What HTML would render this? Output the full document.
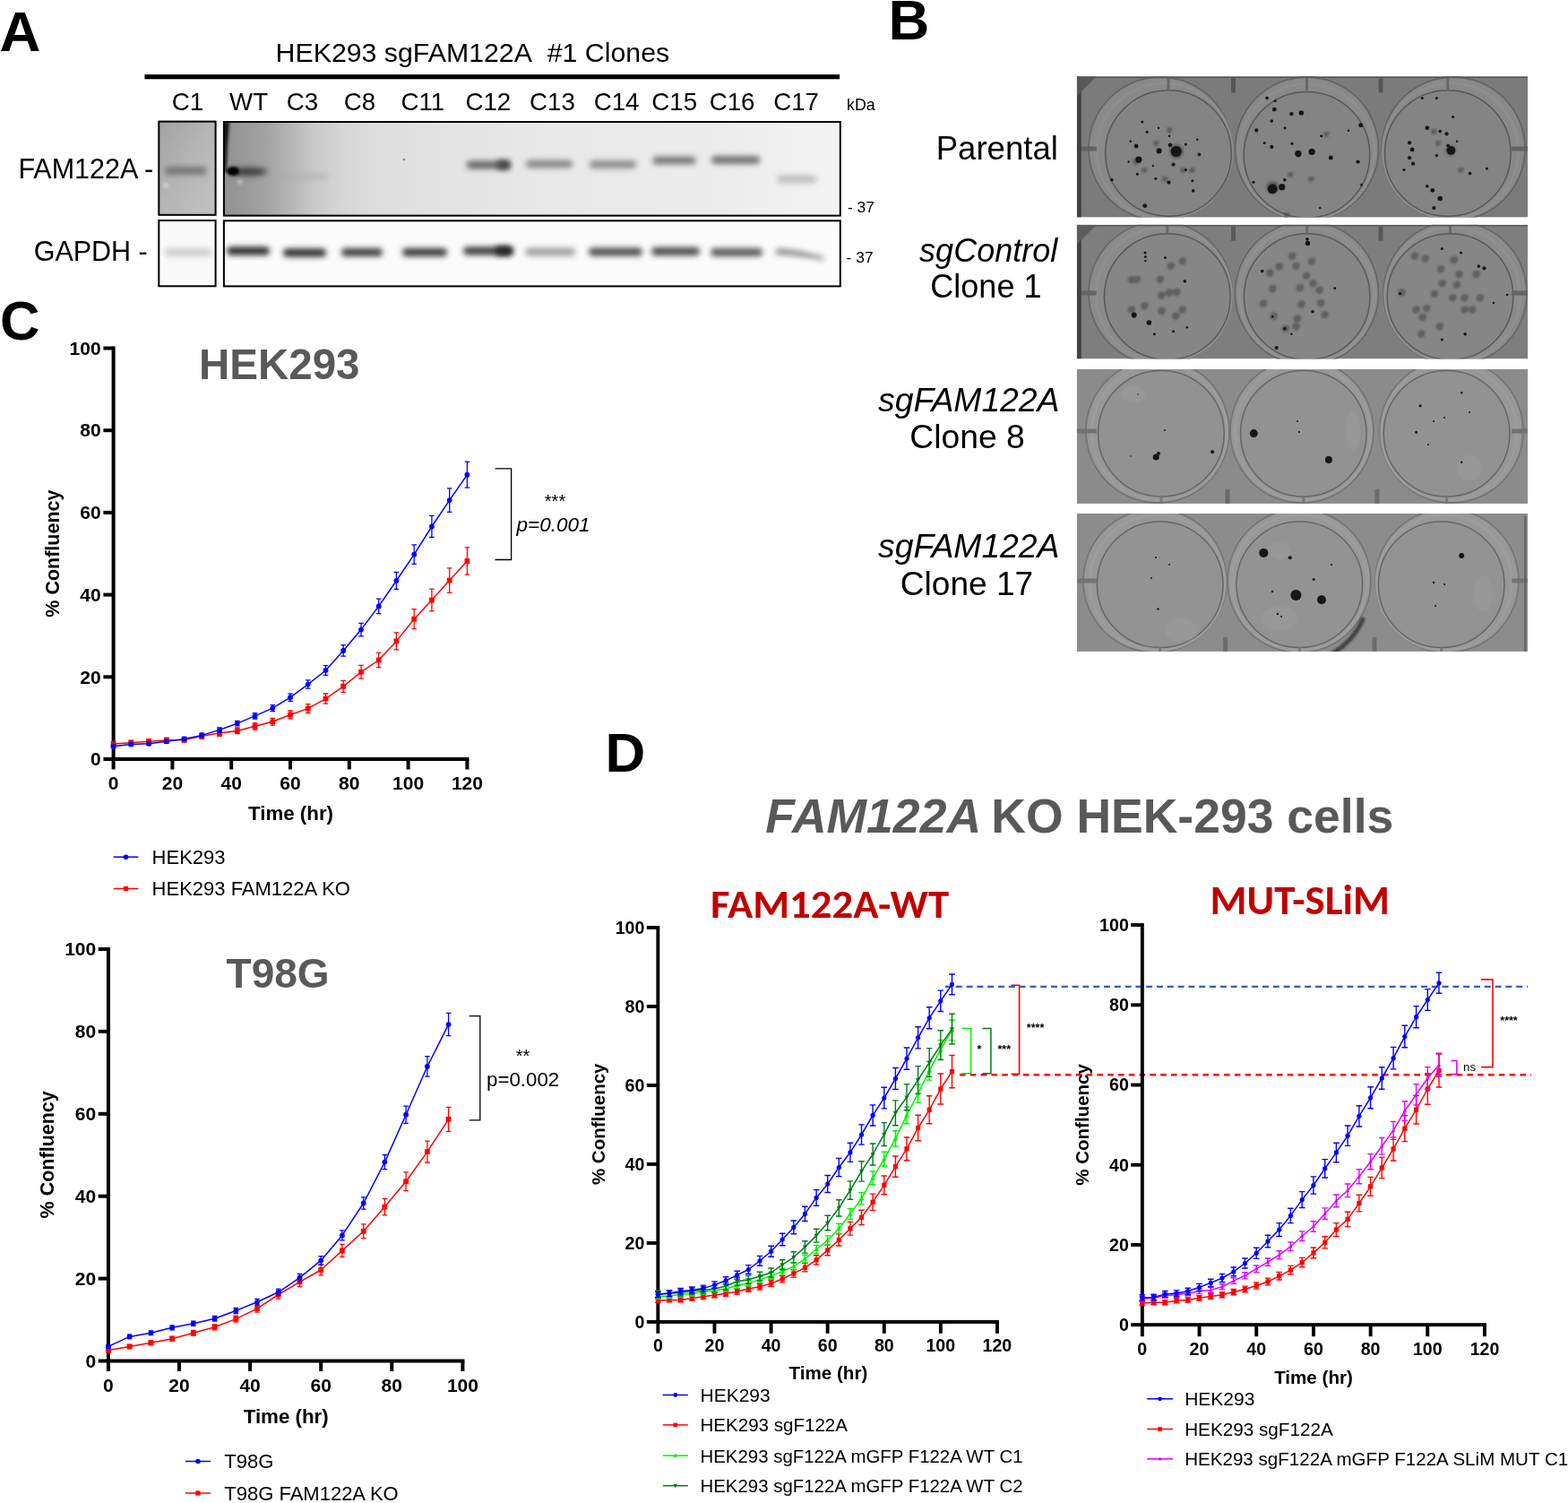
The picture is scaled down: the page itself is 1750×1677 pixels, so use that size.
<!DOCTYPE html>
<html><head><meta charset="utf-8"><title>FAM122A figure</title>
<style>
html,body{margin:0;padding:0;background:#fff;}
body{width:1750px;height:1677px;overflow:hidden;}
svg{display:block;font-family:'Liberation Sans', Arial, Helvetica, sans-serif;}
</style></head>
<body>
<svg width="1750" height="1677" viewBox="0 0 1750 1677">
<rect width="1750" height="1677" fill="#fff"/>
<text x="-0.6" y="56.8" font-size="63.5" font-weight="bold">A</text>
<text x="991.4" y="43.6" font-size="63.5" font-weight="bold">B</text>
<text x="-0.1" y="379.4" font-size="61.5" font-weight="bold">C</text>
<text x="675.5" y="860.6" font-size="62" font-weight="bold">D</text>
<text x="307.6" y="68.9" font-size="30.3">HEK293 sgFAM122A&#160; #1 Clones</text>
<rect x="161.4" y="83.1" width="775.7" height="5.2" fill="#000"/>
<text x="209.4" y="123.0" font-size="27.7" text-anchor="middle">C1</text>
<text x="277.6" y="123.0" font-size="27.7" text-anchor="middle">WT</text>
<text x="337.5" y="123.0" font-size="27.7" text-anchor="middle">C3</text>
<text x="401.5" y="123.0" font-size="27.7" text-anchor="middle">C8</text>
<text x="471.9" y="123.0" font-size="27.7" text-anchor="middle">C11</text>
<text x="544.8" y="123.0" font-size="27.7" text-anchor="middle">C12</text>
<text x="616.5" y="123.0" font-size="27.7" text-anchor="middle">C13</text>
<text x="688.1" y="123.0" font-size="27.7" text-anchor="middle">C14</text>
<text x="752.7" y="123.0" font-size="27.7" text-anchor="middle">C15</text>
<text x="817.1" y="123.0" font-size="27.7" text-anchor="middle">C16</text>
<text x="888.6" y="123.0" font-size="27.7" text-anchor="middle">C17</text>
<text x="945.0" y="123.2" font-size="17.8">kDa</text>
<text x="946.0" y="236.7" font-size="17.4">- 37</text>
<text x="944.6" y="292.5" font-size="17.4">- 37</text>
<text x="20.4" y="198.6" font-size="30.5">FAM122A -</text>
<text x="37.7" y="290.9" font-size="30.5">GAPDH -</text>
<defs>
<filter id="bl3" x="-30%" y="-100%" width="160%" height="300%"><feGaussianBlur stdDeviation="3.0"/></filter>
<filter id="bl2" x="-30%" y="-100%" width="160%" height="300%"><feGaussianBlur stdDeviation="1.8"/></filter>
<filter id="bl6" x="-50%" y="-50%" width="200%" height="200%"><feGaussianBlur stdDeviation="6"/></filter>
<linearGradient id="gFamC1" x1="0" y1="0" x2="1" y2="1">
 <stop offset="0" stop-color="#a2a2a2"/><stop offset="0.5" stop-color="#b6b6b6"/><stop offset="1" stop-color="#c2c2c2"/>
</linearGradient>
<linearGradient id="gFam" gradientUnits="userSpaceOnUse" x1="249" y1="0" x2="938" y2="0">
 <stop offset="0.001" stop-color="#909090"/>
 <stop offset="0.038" stop-color="#9a9a9a"/>
 <stop offset="0.074" stop-color="#a4a4a4"/>
 <stop offset="0.103" stop-color="#b2b2b2"/>
 <stop offset="0.139" stop-color="#c6c6c6"/>
 <stop offset="0.190" stop-color="#d5d5d5"/>
 <stop offset="0.248" stop-color="#dddddd"/>
 <stop offset="0.335" stop-color="#e2e2e2"/>
 <stop offset="0.509" stop-color="#e8e8e8"/>
 <stop offset="0.800" stop-color="#ececec"/>
 <stop offset="1.000" stop-color="#f3f3f3"/>
</linearGradient>
<linearGradient id="gFamV" x1="0" y1="0" x2="0" y2="1">
 <stop offset="0" stop-color="#000" stop-opacity="0.06"/><stop offset="0.5" stop-color="#000" stop-opacity="0"/><stop offset="1" stop-color="#000" stop-opacity="0.03"/>
</linearGradient>
<clipPath id="cpFamC1"><rect x="177.3" y="135.6" width="63.3" height="104.2"/></clipPath>
<clipPath id="cpFam"><rect x="249.9" y="136" width="687.9" height="104.6"/></clipPath>
<clipPath id="cpGC1"><rect x="177.3" y="246" width="63.3" height="73.3"/></clipPath>
<clipPath id="cpG"><rect x="249.9" y="246.3" width="687.9" height="73.1"/></clipPath>
</defs>
<g clip-path="url(#cpFamC1)">
<rect x="177.3" y="135.6" width="63.3" height="104.2" fill="url(#gFamC1)"/>
<rect x="184" y="186" width="46" height="9" rx="4" fill="#747474" filter="url(#bl3)"/>
<circle cx="185" cy="207" r="3" fill="#d0d0d0" filter="url(#bl2)"/>
</g>
<g clip-path="url(#cpFam)">
<rect x="249.9" y="136" width="687.9" height="104.6" fill="url(#gFam)"/>

<path d="M249,136 L256,136 L254,160 L252.5,192 L250,192 Z" fill="#111" filter="url(#bl2)"/>
<ellipse cx="277" cy="191.5" rx="21" ry="4.5" fill="#3a3a3a" filter="url(#bl3)"/>
<ellipse cx="260" cy="191" rx="7" ry="5" fill="#000" filter="url(#bl2)"/>
<circle cx="268" cy="203" r="3" fill="#b8b8b8" filter="url(#bl2)"/>
<rect x="316" y="194" width="50" height="6" rx="3" fill="#a8a8a8" opacity="0.6" filter="url(#bl3)"/>
<rect x="521" y="179.8" width="48" height="8.4" rx="4" fill="#626262" filter="url(#bl3)"/>
<rect x="587" y="178.8" width="52" height="8.4" rx="4" fill="#858585" filter="url(#bl3)"/>
<rect x="658" y="179.3" width="52" height="8.4" rx="4" fill="#888888" filter="url(#bl3)"/>
<rect x="728.5" y="174.8" width="48" height="8.4" rx="4" fill="#757575" filter="url(#bl3)"/>
<rect x="794" y="174.3" width="54" height="8.4" rx="4" fill="#6c6c6c" filter="url(#bl3)"/>
<rect x="867" y="195.8" width="44" height="8.4" rx="4" fill="#bdbdbd" filter="url(#bl3)"/>
<rect x="555" y="179" width="14" height="10" rx="3" fill="#444" filter="url(#bl3)"/>
<circle cx="451" cy="178" r="1.3" fill="#888"/>
</g>
<rect x="177.3" y="135.6" width="63.3" height="104.2" fill="none" stroke="#000" stroke-width="2"/>
<rect x="249.9" y="136" width="687.9" height="104.6" fill="none" stroke="#000" stroke-width="2"/>
<g clip-path="url(#cpGC1)">
<rect x="177.3" y="246" width="63.3" height="73.3" fill="#f9f9f9"/>
<rect x="184" y="277" width="52" height="9" rx="4" fill="#cdcdcd" filter="url(#bl3)"/>
</g>
<g clip-path="url(#cpG)">
<rect x="249.9" y="246.3" width="687.9" height="73.1" fill="#fbfbfb"/>
<rect x="253" y="275.4" width="48" height="9.2" rx="4.5" fill="#262626" filter="url(#bl3)"/>
<rect x="316" y="277.4" width="48" height="9.2" rx="4.5" fill="#2c2c2c" filter="url(#bl3)"/>
<rect x="381" y="276.9" width="46" height="9.2" rx="4.5" fill="#3c3c3c" filter="url(#bl3)"/>
<rect x="449" y="276.9" width="50" height="9.2" rx="4.5" fill="#383838" filter="url(#bl3)"/>
<rect x="517" y="275.4" width="56" height="9.2" rx="4.5" fill="#3a3a3a" filter="url(#bl3)"/>
<rect x="586" y="276.4" width="56" height="9.2" rx="4.5" fill="#a0a0a0" filter="url(#bl3)"/>
<rect x="657" y="276.4" width="60" height="9.2" rx="4.5" fill="#4c4c4c" filter="url(#bl3)"/>
<rect x="727" y="275.9" width="54" height="9.2" rx="4.5" fill="#4a4a4a" filter="url(#bl3)"/>
<rect x="793" y="276.9" width="58" height="9.2" rx="4.5" fill="#585858" filter="url(#bl3)"/>
<rect x="553" y="275" width="18" height="10" rx="4" fill="#222" filter="url(#bl3)"/>
<path d="M866,278 C880,277 900,281 920,287 L920,290 C900,287 880,284 866,284 Z" fill="#888" filter="url(#bl3)"/>
</g>
<rect x="177.3" y="246" width="63.3" height="73.3" fill="none" stroke="#000" stroke-width="2"/>
<rect x="249.9" y="246.3" width="687.9" height="73.1" fill="none" stroke="#000" stroke-width="2"/>
<text x="1180.9" y="177.8" font-size="36.6" text-anchor="end">Parental</text>
<text x="1180.2" y="292.4" font-size="36" text-anchor="end" font-style="italic">sgControl</text>
<text x="1100.4" y="332.2" font-size="36" text-anchor="middle">Clone 1</text>
<text x="1182.5" y="459.4" font-size="37.3" text-anchor="end" font-style="italic">sgFAM122A</text>
<text x="1079.6" y="500.3" font-size="37.3" text-anchor="middle">Clone 8</text>
<text x="1182.5" y="622.2" font-size="37.3" text-anchor="end" font-style="italic">sgFAM122A</text>
<text x="1079.0" y="664.0" font-size="37.1" text-anchor="middle">Clone 17</text>
<defs><filter id="pblur" x="-10%" y="-10%" width="120%" height="120%"><feGaussianBlur stdDeviation="0.7"/></filter><filter id="cblur" x="-50%" y="-50%" width="200%" height="200%"><feGaussianBlur stdDeviation="0.55"/></filter><filter id="gblur" x="-50%" y="-50%" width="200%" height="200%"><feGaussianBlur stdDeviation="1.2"/></filter></defs>
<clipPath id="pc0"><rect x="1201.8" y="85.3" width="503.3" height="157.3"/></clipPath>
<g clip-path="url(#pc0)">
<rect x="1201.8" y="85.3" width="503.3" height="157.3" fill="rgb(123,123,123)"/>
<g filter="url(#pblur)"><circle cx="1295" cy="166" r="80" fill="rgb(137,137,137)" stroke="rgb(101,101,101)" stroke-width="1.8"/><circle cx="1299.5" cy="168.5" r="75.5" fill="none" stroke="rgb(142,142,142)" stroke-width="3"/><circle cx="1304" cy="171" r="70.3" fill="rgb(132,132,132)" stroke="rgb(87,87,87)" stroke-width="1.5"/><rect x="1302.5" y="86.3" width="3" height="15.7" fill="rgb(103,103,103)"/><circle cx="1458.5" cy="166" r="80" fill="rgb(137,137,137)" stroke="rgb(101,101,101)" stroke-width="1.8"/><circle cx="1458.5" cy="169.3" r="75.5" fill="none" stroke="rgb(142,142,142)" stroke-width="3"/><circle cx="1458.5" cy="172.7" r="70.3" fill="rgb(132,132,132)" stroke="rgb(87,87,87)" stroke-width="1.5"/><rect x="1457.0" y="86.3" width="3" height="17.4" fill="rgb(103,103,103)"/><circle cx="1622" cy="166" r="80" fill="rgb(137,137,137)" stroke="rgb(101,101,101)" stroke-width="1.8"/><circle cx="1618.9" cy="168.5" r="75.5" fill="none" stroke="rgb(142,142,142)" stroke-width="3"/><circle cx="1615.8" cy="171" r="70.3" fill="rgb(132,132,132)" stroke="rgb(87,87,87)" stroke-width="1.5"/><rect x="1614.3" y="86.3" width="3" height="15.7" fill="rgb(103,103,103)"/><rect x="1201.8" y="163.5" width="22" height="5" fill="rgb(98,98,98)"/><rect x="1687.1" y="163.5" width="18" height="5" fill="rgb(98,98,98)"/></g>
<g fill="#4a4a4a" opacity="0.62" filter="url(#gblur)"><circle cx="1268.0" cy="180.0" r="4"/><circle cx="1269.6" cy="178.8" r="2.8"/><circle cx="1290.0" cy="160.0" r="3"/><circle cx="1291.6" cy="158.8" r="2.1"/><circle cx="1320.0" cy="190.0" r="3"/><circle cx="1321.6" cy="188.8" r="2.1"/><circle cx="1440.0" cy="195.0" r="3"/><circle cx="1441.6" cy="193.8" r="2.1"/><circle cx="1480.0" cy="150.0" r="3"/><circle cx="1481.6" cy="148.8" r="2.1"/><circle cx="1605.0" cy="160.0" r="3"/><circle cx="1606.6" cy="158.8" r="2.1"/><circle cx="1313.0" cy="169.0" r="8"/><circle cx="1314.6" cy="167.8" r="5.6"/><circle cx="1420.0" cy="209.0" r="7"/><circle cx="1421.6" cy="207.8" r="4.9"/><circle cx="1619.0" cy="168.0" r="6"/><circle cx="1620.6" cy="166.8" r="4.2"/><circle cx="1305.0" cy="145.0" r="3"/><circle cx="1306.6" cy="143.8" r="2.1"/><circle cx="1277.0" cy="190.0" r="3"/><circle cx="1278.6" cy="188.8" r="2.1"/><circle cx="1300.0" cy="200.0" r="3"/><circle cx="1301.6" cy="198.8" r="2.1"/><circle cx="1330.0" cy="190.0" r="3"/><circle cx="1331.6" cy="188.8" r="2.1"/><circle cx="1436.0" cy="240.0" r="3"/><circle cx="1437.6" cy="238.8" r="2.1"/><circle cx="1463.0" cy="200.0" r="3"/><circle cx="1464.6" cy="198.8" r="2.1"/><circle cx="1600.0" cy="147.0" r="3"/><circle cx="1601.6" cy="145.8" r="2.1"/><circle cx="1630.0" cy="190.0" r="3"/><circle cx="1631.6" cy="188.8" r="2.1"/></g>
<g fill="#141414" filter="url(#cblur)"><circle cx="1274.8" cy="136.0" r="1.51"/><circle cx="1280.2" cy="147.2" r="1.51"/><circle cx="1268.1" cy="163.0" r="2.42"/><circle cx="1270.9" cy="178.1" r="3.63"/><circle cx="1293.6" cy="168.4" r="3.03"/><circle cx="1306.0" cy="161.8" r="2.42"/><circle cx="1312.7" cy="169.0" r="6.06"/><circle cx="1309.6" cy="183.6" r="2.12"/><circle cx="1269.3" cy="194.2" r="1.51"/><circle cx="1304.5" cy="203.6" r="2.12"/><circle cx="1330.8" cy="201.7" r="1.51"/><circle cx="1331.7" cy="212.9" r="1.82"/><circle cx="1277.8" cy="229.6" r="2.42"/><circle cx="1240.9" cy="200.8" r="1.82"/><circle cx="1338.4" cy="172.4" r="1.82"/><circle cx="1336.3" cy="155.7" r="1.21"/><circle cx="1293.0" cy="142.7" r="1.21"/><circle cx="1305.1" cy="151.8" r="1.21"/><circle cx="1289.9" cy="199.3" r="1.51"/><circle cx="1323.3" cy="189.6" r="1.51"/><circle cx="1261.8" cy="157.8" r="1.21"/><circle cx="1259.7" cy="180.5" r="1.21"/><circle cx="1286.9" cy="185.1" r="1.21"/><circle cx="1323.3" cy="160.9" r="1.51"/><circle cx="1422.3" cy="122.1" r="2.42"/><circle cx="1441.4" cy="127.2" r="2.12"/><circle cx="1452.3" cy="126.0" r="2.73"/><circle cx="1419.3" cy="135.1" r="1.82"/><circle cx="1402.3" cy="145.4" r="2.12"/><circle cx="1434.1" cy="142.7" r="1.51"/><circle cx="1411.1" cy="159.6" r="1.51"/><circle cx="1419.3" cy="163.9" r="2.12"/><circle cx="1448.9" cy="171.5" r="3.63"/><circle cx="1464.1" cy="169.3" r="3.63"/><circle cx="1485.3" cy="176.0" r="2.42"/><circle cx="1474.7" cy="151.8" r="1.51"/><circle cx="1515.6" cy="180.5" r="2.12"/><circle cx="1518.6" cy="139.7" r="2.42"/><circle cx="1420.2" cy="210.8" r="5.45"/><circle cx="1430.8" cy="208.7" r="3.63"/><circle cx="1433.8" cy="200.8" r="1.82"/><circle cx="1399.0" cy="203.3" r="1.51"/><circle cx="1519.5" cy="206.3" r="1.51"/><circle cx="1442.0" cy="160.2" r="1.51"/><circle cx="1473.2" cy="232.0" r="1.21"/><circle cx="1414.1" cy="109.4" r="1.82"/><circle cx="1423.2" cy="112.4" r="1.51"/><circle cx="1505.0" cy="145.7" r="1.21"/><circle cx="1621.6" cy="130.6" r="1.51"/><circle cx="1592.8" cy="142.7" r="2.42"/><circle cx="1607.3" cy="146.6" r="1.82"/><circle cx="1614.6" cy="149.3" r="2.12"/><circle cx="1573.1" cy="159.3" r="2.12"/><circle cx="1576.1" cy="166.9" r="2.42"/><circle cx="1573.1" cy="176.0" r="2.12"/><circle cx="1577.0" cy="182.7" r="2.12"/><circle cx="1603.4" cy="173.6" r="1.82"/><circle cx="1619.4" cy="167.8" r="4.85"/><circle cx="1616.1" cy="162.4" r="1.82"/><circle cx="1640.6" cy="193.6" r="1.82"/><circle cx="1598.8" cy="212.3" r="2.42"/><circle cx="1592.8" cy="207.8" r="1.82"/><circle cx="1607.3" cy="221.4" r="2.73"/><circle cx="1600.4" cy="232.0" r="2.12"/><circle cx="1567.0" cy="189.6" r="1.51"/><circle cx="1659.4" cy="188.1" r="1.51"/><circle cx="1626.1" cy="157.8" r="1.21"/><circle cx="1587.3" cy="109.4" r="1.51"/><circle cx="1603.4" cy="109.4" r="1.51"/></g>
<rect x="1374.0" y="87.3" width="5" height="16" fill="rgb(78,78,78)" opacity="0.8" filter="url(#pblur)"/>
<rect x="1538.5" y="87.3" width="5" height="16" fill="rgb(78,78,78)" opacity="0.8" filter="url(#pblur)"/>
<rect x="1201.8" y="85.3" width="5" height="157.3" fill="#3c3c3c" opacity="0.9"/>
<rect x="1201.8" y="85.3" width="503.3" height="1.6" fill="rgb(83,83,83)"/>
<path d="M1201.8,107.3 L1223.8,85.3 L1201.8,85.3 Z" fill="rgb(88,88,88)" filter="url(#pblur)"/>
</g>
<clipPath id="pc1"><rect x="1201.8" y="250.8" width="503.3" height="149.6"/></clipPath>
<g clip-path="url(#pc1)">
<rect x="1201.8" y="250.8" width="503.3" height="149.6" fill="rgb(126,126,126)"/>
<g filter="url(#pblur)"><circle cx="1295" cy="327" r="80" fill="rgb(139,139,139)" stroke="rgb(104,104,104)" stroke-width="1.8"/><circle cx="1298.9" cy="329.0" r="75.5" fill="none" stroke="rgb(144,144,144)" stroke-width="3"/><circle cx="1302.8" cy="331" r="70.3" fill="rgb(134,134,134)" stroke="rgb(89,89,89)" stroke-width="1.5"/><rect x="1301.3" y="251.8" width="3" height="10.2" fill="rgb(106,106,106)"/><circle cx="1458.5" cy="327" r="80" fill="rgb(139,139,139)" stroke="rgb(104,104,104)" stroke-width="1.8"/><circle cx="1458.6" cy="329.0" r="75.5" fill="none" stroke="rgb(144,144,144)" stroke-width="3"/><circle cx="1458.7" cy="331" r="70.3" fill="rgb(134,134,134)" stroke="rgb(89,89,89)" stroke-width="1.5"/><rect x="1457.2" y="251.8" width="3" height="10.2" fill="rgb(106,106,106)"/><circle cx="1624" cy="327" r="80" fill="rgb(139,139,139)" stroke="rgb(104,104,104)" stroke-width="1.8"/><circle cx="1621.2" cy="329.0" r="75.5" fill="none" stroke="rgb(144,144,144)" stroke-width="3"/><circle cx="1618.5" cy="331" r="70.3" fill="rgb(134,134,134)" stroke="rgb(89,89,89)" stroke-width="1.5"/><rect x="1617.0" y="251.8" width="3" height="10.2" fill="rgb(106,106,106)"/><rect x="1201.8" y="324.5" width="22" height="5" fill="rgb(101,101,101)"/><rect x="1687.1" y="324.5" width="18" height="5" fill="rgb(101,101,101)"/></g>
<g fill="#4a4a4a" opacity="0.62" filter="url(#gblur)"><circle cx="1306.4" cy="296.9" r="4.2"/><circle cx="1308.0" cy="295.7" r="2.9"/><circle cx="1304.9" cy="326.6" r="4.2"/><circle cx="1306.5" cy="325.4" r="2.9"/><circle cx="1296.2" cy="329.5" r="4.2"/><circle cx="1297.8" cy="328.3" r="2.9"/><circle cx="1313.1" cy="326.0" r="4.2"/><circle cx="1314.7" cy="324.8" r="2.9"/><circle cx="1319.5" cy="291.6" r="4.2"/><circle cx="1321.1" cy="290.4" r="2.9"/><circle cx="1296.2" cy="347.0" r="4.2"/><circle cx="1297.8" cy="345.8" r="2.9"/><circle cx="1312.2" cy="352.8" r="4.2"/><circle cx="1313.8" cy="351.6" r="2.9"/><circle cx="1319.5" cy="345.6" r="4.2"/><circle cx="1321.1" cy="344.4" r="2.9"/><circle cx="1277.2" cy="341.2" r="4.2"/><circle cx="1278.8" cy="340.0" r="2.9"/><circle cx="1262.7" cy="345.6" r="4.2"/><circle cx="1264.3" cy="344.4" r="2.9"/><circle cx="1294.7" cy="312.0" r="4.2"/><circle cx="1296.3" cy="310.8" r="2.9"/><circle cx="1262.7" cy="312.0" r="4.2"/><circle cx="1264.3" cy="310.8" r="2.9"/><circle cx="1268.5" cy="312.0" r="4.2"/><circle cx="1270.1" cy="310.8" r="2.9"/><circle cx="1441.9" cy="285.8" r="4.2"/><circle cx="1443.5" cy="284.6" r="2.9"/><circle cx="1446.3" cy="296.9" r="4.2"/><circle cx="1447.9" cy="295.7" r="2.9"/><circle cx="1463.8" cy="291.6" r="4.2"/><circle cx="1465.4" cy="290.4" r="2.9"/><circle cx="1457.9" cy="307.7" r="4.2"/><circle cx="1459.5" cy="306.5" r="2.9"/><circle cx="1465.2" cy="316.4" r="4.2"/><circle cx="1466.8" cy="315.2" r="2.9"/><circle cx="1450.7" cy="321.4" r="4.2"/><circle cx="1452.3" cy="320.2" r="2.9"/><circle cx="1472.5" cy="323.7" r="4.2"/><circle cx="1474.1" cy="322.5" r="2.9"/><circle cx="1420.1" cy="322.2" r="4.2"/><circle cx="1421.7" cy="321.0" r="2.9"/><circle cx="1409.9" cy="338.9" r="4.2"/><circle cx="1411.5" cy="337.7" r="2.9"/><circle cx="1421.5" cy="352.8" r="4.2"/><circle cx="1423.1" cy="351.6" r="2.9"/><circle cx="1452.1" cy="339.7" r="4.2"/><circle cx="1453.7" cy="338.5" r="2.9"/><circle cx="1474.0" cy="338.3" r="4.2"/><circle cx="1475.6" cy="337.1" r="2.9"/><circle cx="1447.7" cy="355.8" r="4.2"/><circle cx="1449.3" cy="354.6" r="2.9"/><circle cx="1446.3" cy="364.5" r="4.2"/><circle cx="1447.9" cy="363.3" r="2.9"/><circle cx="1434.6" cy="366.8" r="4.2"/><circle cx="1436.2" cy="365.6" r="2.9"/><circle cx="1478.3" cy="351.4" r="4.2"/><circle cx="1479.9" cy="350.2" r="2.9"/><circle cx="1417.1" cy="304.7" r="4.2"/><circle cx="1418.7" cy="303.5" r="2.9"/><circle cx="1427.3" cy="297.5" r="4.2"/><circle cx="1428.9" cy="296.3" r="2.9"/><circle cx="1622.6" cy="290.2" r="4.2"/><circle cx="1624.2" cy="289.0" r="2.9"/><circle cx="1608.0" cy="300.4" r="4.2"/><circle cx="1609.6" cy="299.2" r="2.9"/><circle cx="1609.5" cy="316.4" r="4.2"/><circle cx="1611.1" cy="315.2" r="2.9"/><circle cx="1625.5" cy="317.9" r="4.2"/><circle cx="1627.1" cy="316.7" r="2.9"/><circle cx="1564.3" cy="326.6" r="4.2"/><circle cx="1565.9" cy="325.4" r="2.9"/><circle cx="1600.8" cy="328.1" r="4.2"/><circle cx="1602.4" cy="326.9" r="2.9"/><circle cx="1621.2" cy="332.4" r="4.2"/><circle cx="1622.8" cy="331.2" r="2.9"/><circle cx="1634.3" cy="332.4" r="4.2"/><circle cx="1635.9" cy="331.2" r="2.9"/><circle cx="1651.8" cy="332.4" r="4.2"/><circle cx="1653.4" cy="331.2" r="2.9"/><circle cx="1580.4" cy="345.6" r="4.2"/><circle cx="1582.0" cy="344.4" r="2.9"/><circle cx="1592.0" cy="344.1" r="4.2"/><circle cx="1593.6" cy="342.9" r="2.9"/><circle cx="1634.3" cy="345.6" r="4.2"/><circle cx="1635.9" cy="344.4" r="2.9"/><circle cx="1643.0" cy="345.6" r="4.2"/><circle cx="1644.6" cy="344.4" r="2.9"/><circle cx="1587.6" cy="354.3" r="4.2"/><circle cx="1589.2" cy="353.1" r="2.9"/><circle cx="1606.6" cy="364.5" r="4.2"/><circle cx="1608.2" cy="363.3" r="2.9"/><circle cx="1586.2" cy="372.7" r="4.2"/><circle cx="1587.8" cy="371.5" r="2.9"/><circle cx="1628.4" cy="306.2" r="4.2"/><circle cx="1630.0" cy="305.0" r="2.9"/><circle cx="1647.4" cy="306.2" r="4.2"/><circle cx="1649.0" cy="305.0" r="2.9"/><circle cx="1578.9" cy="285.8" r="4.2"/><circle cx="1580.5" cy="284.6" r="2.9"/><circle cx="1590.6" cy="288.7" r="4.2"/><circle cx="1592.2" cy="287.5" r="2.9"/></g>
<g fill="#141414" filter="url(#cblur)"><circle cx="1278.1" cy="282.0" r="1.51"/><circle cx="1278.4" cy="286.5" r="1.51"/><circle cx="1278.4" cy="291.1" r="1.21"/><circle cx="1300.5" cy="287.4" r="1.51"/><circle cx="1322.3" cy="313.8" r="1.82"/><circle cx="1265.7" cy="351.6" r="3.03"/><circle cx="1282.4" cy="360.1" r="2.73"/><circle cx="1288.4" cy="372.8" r="1.51"/><circle cx="1309.6" cy="369.8" r="1.51"/><circle cx="1324.8" cy="365.3" r="1.21"/><circle cx="1459.5" cy="271.4" r="2.73"/><circle cx="1458.9" cy="266.9" r="1.82"/><circle cx="1408.7" cy="302.6" r="1.82"/><circle cx="1465.0" cy="347.7" r="1.82"/><circle cx="1420.2" cy="353.2" r="1.21"/><circle cx="1424.7" cy="388.0" r="2.12"/><circle cx="1433.8" cy="366.8" r="1.82"/><circle cx="1441.4" cy="372.8" r="1.21"/><circle cx="1609.4" cy="277.5" r="1.51"/><circle cx="1630.6" cy="282.0" r="1.51"/><circle cx="1656.4" cy="299.3" r="2.12"/><circle cx="1650.3" cy="297.1" r="1.82"/><circle cx="1635.2" cy="372.8" r="1.82"/><circle cx="1609.4" cy="378.9" r="1.51"/><circle cx="1562.5" cy="327.4" r="1.51"/><circle cx="1489.8" cy="321.4" r="1.51"/><circle cx="1682.1" cy="328.9" r="1.21"/><circle cx="1667.0" cy="338.0" r="1.21"/></g>
<rect x="1374.0" y="252.8" width="5" height="16" fill="rgb(81,81,81)" opacity="0.8" filter="url(#pblur)"/>
<rect x="1538.5" y="252.8" width="5" height="16" fill="rgb(81,81,81)" opacity="0.8" filter="url(#pblur)"/>
<rect x="1201.8" y="250.8" width="5" height="149.6" fill="#3c3c3c" opacity="0.9"/>
<rect x="1201.8" y="250.8" width="503.3" height="1.6" fill="rgb(86,86,86)"/>
<path d="M1201.8,272.8 L1223.8,250.8 L1201.8,250.8 Z" fill="rgb(91,91,91)" filter="url(#pblur)"/>
</g>
<clipPath id="pc2"><rect x="1201.8" y="411.9" width="503.3" height="150.0"/></clipPath>
<g clip-path="url(#pc2)">
<rect x="1201.8" y="411.9" width="503.3" height="150.0" fill="rgb(139,139,139)"/>
<g filter="url(#pblur)"><circle cx="1292" cy="481" r="80" fill="rgb(151,151,151)" stroke="rgb(117,117,117)" stroke-width="1.8"/><circle cx="1294.0" cy="482.4" r="75.5" fill="none" stroke="rgb(156,156,156)" stroke-width="3"/><circle cx="1295.9" cy="483.7" r="70.3" fill="rgb(146,146,146)" stroke="rgb(101,101,101)" stroke-width="1.5"/><rect x="1294.4" y="553.7" width="3" height="8.2" fill="rgb(119,119,119)"/><circle cx="1453" cy="481" r="80" fill="rgb(151,151,151)" stroke="rgb(117,117,117)" stroke-width="1.8"/><circle cx="1453.9" cy="482.4" r="75.5" fill="none" stroke="rgb(156,156,156)" stroke-width="3"/><circle cx="1454.8" cy="483.7" r="70.3" fill="rgb(146,146,146)" stroke="rgb(101,101,101)" stroke-width="1.5"/><rect x="1453.3" y="553.7" width="3" height="8.2" fill="rgb(119,119,119)"/><circle cx="1620" cy="481" r="80" fill="rgb(151,151,151)" stroke="rgb(117,117,117)" stroke-width="1.8"/><circle cx="1617.3" cy="482.4" r="75.5" fill="none" stroke="rgb(156,156,156)" stroke-width="3"/><circle cx="1614.6" cy="483.7" r="70.3" fill="rgb(146,146,146)" stroke="rgb(101,101,101)" stroke-width="1.5"/><rect x="1613.1" y="553.7" width="3" height="8.2" fill="rgb(119,119,119)"/><rect x="1201.8" y="478.5" width="22" height="5" fill="rgb(114,114,114)"/><rect x="1687.1" y="478.5" width="18" height="5" fill="rgb(114,114,114)"/></g>
<ellipse cx="1265" cy="440" rx="14" ry="9" fill="rgb(153,153,153)" opacity="0.85" filter="url(#gblur)"/>
<ellipse cx="1510" cy="480" rx="8" ry="22" fill="rgb(153,153,153)" opacity="0.85" filter="url(#gblur)"/>
<ellipse cx="1640" cy="522" rx="14" ry="14" fill="rgb(153,153,153)" opacity="0.85" filter="url(#gblur)"/>
<g fill="#141414" filter="url(#cblur)"><circle cx="1290.2" cy="510" r="3.5"/><circle cx="1293" cy="506" r="2"/><circle cx="1353.1" cy="504.3" r="2"/><circle cx="1399.3" cy="483.6" r="4.5"/><circle cx="1482.9" cy="513.1" r="4"/><circle cx="1585" cy="452.8" r="1.5"/><circle cx="1580.6" cy="482.3" r="1.5"/><circle cx="1631.2" cy="438.3" r="1.2"/><circle cx="1631.2" cy="515.7" r="1.2"/><circle cx="1300" cy="480" r="0.9"/><circle cx="1450" cy="482" r="1"/><circle cx="1448" cy="470" r="0.9"/><circle cx="1600" cy="470" r="1"/><circle cx="1612" cy="466" r="0.9"/><circle cx="1640" cy="460" r="0.9"/><circle cx="1594" cy="496" r="0.9"/><circle cx="1270" cy="440" r="0.8"/><circle cx="1262" cy="509" r="0.8"/></g>
<rect x="1367.5" y="545.9" width="5" height="16" fill="rgb(99,99,99)" opacity="0.8" filter="url(#pblur)"/>
<rect x="1534.5" y="545.9" width="5" height="16" fill="rgb(99,99,99)" opacity="0.8" filter="url(#pblur)"/>
</g>
<clipPath id="pc3"><rect x="1201.8" y="572.9" width="503.3" height="154.0"/></clipPath>
<g clip-path="url(#pc3)">
<rect x="1201.8" y="572.9" width="503.3" height="154.0" fill="rgb(140,140,140)"/>
<g filter="url(#pblur)"><circle cx="1289" cy="648" r="80" fill="rgb(152,152,152)" stroke="rgb(118,118,118)" stroke-width="1.8"/><circle cx="1291.8" cy="650.1" r="75.5" fill="none" stroke="rgb(157,157,157)" stroke-width="3"/><circle cx="1294.7" cy="652.2" r="70.3" fill="rgb(147,147,147)" stroke="rgb(102,102,102)" stroke-width="1.5"/><rect x="1293.2" y="722.2" width="3" height="4.7" fill="rgb(120,120,120)"/><circle cx="1450" cy="648" r="80" fill="rgb(152,152,152)" stroke="rgb(118,118,118)" stroke-width="1.8"/><circle cx="1450.2" cy="650.1" r="75.5" fill="none" stroke="rgb(157,157,157)" stroke-width="3"/><circle cx="1450.3" cy="652.2" r="70.3" fill="rgb(147,147,147)" stroke="rgb(102,102,102)" stroke-width="1.5"/><rect x="1448.8" y="722.2" width="3" height="4.7" fill="rgb(120,120,120)"/><circle cx="1615" cy="648" r="80" fill="rgb(152,152,152)" stroke="rgb(118,118,118)" stroke-width="1.8"/><circle cx="1611.8" cy="650.1" r="75.5" fill="none" stroke="rgb(157,157,157)" stroke-width="3"/><circle cx="1608.7" cy="652.2" r="70.3" fill="rgb(147,147,147)" stroke="rgb(102,102,102)" stroke-width="1.5"/><rect x="1607.2" y="722.2" width="3" height="4.7" fill="rgb(120,120,120)"/><rect x="1201.8" y="645.5" width="22" height="5" fill="rgb(115,115,115)"/><rect x="1687.1" y="645.5" width="18" height="5" fill="rgb(115,115,115)"/></g>
<ellipse cx="1318" cy="703" rx="18" ry="13" fill="rgb(154,154,154)" opacity="0.85" filter="url(#gblur)"/>
<ellipse cx="1428" cy="690" rx="20" ry="13" fill="rgb(154,154,154)" opacity="0.85" filter="url(#gblur)"/>
<ellipse cx="1655" cy="662" rx="10" ry="20" fill="rgb(154,154,154)" opacity="0.85" filter="url(#gblur)"/>
<ellipse cx="1428" cy="615" rx="12" ry="10" fill="rgb(154,154,154)" opacity="0.85" filter="url(#gblur)"/>
<g fill="#141414" filter="url(#cblur)"><circle cx="1410.3" cy="616.9" r="5"/><circle cx="1446.4" cy="664" r="6"/><circle cx="1475" cy="669.3" r="5"/><circle cx="1631.2" cy="620" r="3"/><circle cx="1439.8" cy="622.2" r="2"/><circle cx="1466.2" cy="646.4" r="1.5"/><circle cx="1292.4" cy="679.4" r="1.2"/><circle cx="1290" cy="622" r="1"/><circle cx="1285" cy="645" r="1"/><circle cx="1305" cy="630" r="0.9"/><circle cx="1420" cy="660" r="1.2"/><circle cx="1486" cy="630" r="1"/><circle cx="1600" cy="650" r="1.2"/><circle cx="1612" cy="652" r="1"/><circle cx="1602" cy="676" r="1"/><circle cx="1426" cy="685" r="1.2"/><circle cx="1430" cy="688" r="1.0"/></g>
<rect x="1365.1" y="710.9" width="5" height="16" fill="rgb(100,100,100)" opacity="0.8" filter="url(#pblur)"/>
<rect x="1531.5" y="710.9" width="5" height="16" fill="rgb(100,100,100)" opacity="0.8" filter="url(#pblur)"/>
<rect x="1701.2" y="575.9" width="2" height="151.0" fill="#555" opacity="0.8"/>
<path d="M1521,691 A81,81 0 0 1 1487,729" fill="none" stroke="#3a3a3a" stroke-width="5" stroke-linecap="round" opacity="0.9" filter="url(#gblur)"/>
</g>
<rect x="124.6" y="386.5" width="4.0" height="472.0" fill="#000"/>
<rect x="115.4" y="845.0" width="408.0" height="4.0" fill="#000"/>
<rect x="115.4" y="753.3" width="11.2" height="4.0" fill="#000"/>
<rect x="115.4" y="661.6" width="11.2" height="4.0" fill="#000"/>
<rect x="115.4" y="569.9" width="11.2" height="4.0" fill="#000"/>
<rect x="115.4" y="478.2" width="11.2" height="4.0" fill="#000"/>
<rect x="115.4" y="386.5" width="11.2" height="4.0" fill="#000"/>
<rect x="190.4" y="847.0" width="4.0" height="11.5" fill="#000"/>
<rect x="256.2" y="847.0" width="4.0" height="11.5" fill="#000"/>
<rect x="322.0" y="847.0" width="4.0" height="11.5" fill="#000"/>
<rect x="387.8" y="847.0" width="4.0" height="11.5" fill="#000"/>
<rect x="453.6" y="847.0" width="4.0" height="11.5" fill="#000"/>
<rect x="519.4" y="847.0" width="4.0" height="11.5" fill="#000"/>
<text x="112.6" y="854.2" font-size="21" text-anchor="end" font-weight="bold">0</text>
<text x="112.6" y="762.5" font-size="21" text-anchor="end" font-weight="bold">20</text>
<text x="112.6" y="670.8" font-size="21" text-anchor="end" font-weight="bold">40</text>
<text x="112.6" y="579.1" font-size="21" text-anchor="end" font-weight="bold">60</text>
<text x="112.6" y="487.4" font-size="21" text-anchor="end" font-weight="bold">80</text>
<text x="112.6" y="395.7" font-size="21" text-anchor="end" font-weight="bold">100</text>
<text x="126.6" y="880.6" font-size="21" text-anchor="middle" font-weight="bold">0</text>
<text x="192.4" y="880.6" font-size="21" text-anchor="middle" font-weight="bold">20</text>
<text x="258.2" y="880.6" font-size="21" text-anchor="middle" font-weight="bold">40</text>
<text x="324.0" y="880.6" font-size="21" text-anchor="middle" font-weight="bold">60</text>
<text x="389.8" y="880.6" font-size="21" text-anchor="middle" font-weight="bold">80</text>
<text x="455.6" y="880.6" font-size="21" text-anchor="middle" font-weight="bold">100</text>
<text x="521.4" y="880.6" font-size="21" text-anchor="middle" font-weight="bold">120</text>
<g stroke="#ff0000" stroke-width="1.3" fill="none"><path d="M126.6,827.6V832.5M123.8,827.6H129.4M123.8,832.5H129.4"/><path d="M146.3,826.1V831.2M143.5,826.1H149.1M143.5,831.2H149.1"/><path d="M166.1,824.7V829.9M163.3,824.7H168.9M163.3,829.9H168.9"/><path d="M185.8,823.2V828.6M183.0,823.2H188.6M183.0,828.6H188.6"/><path d="M205.6,822.7V828.2M202.8,822.7H208.4M202.8,828.2H208.4"/><path d="M225.3,818.4V824.3M222.5,818.4H228.1M222.5,824.3H228.1"/><path d="M245.0,814.9V821.3M242.2,814.9H247.8M242.2,821.3H247.8"/><path d="M264.8,812.0V818.7M262.0,812.0H267.6M262.0,818.7H267.6"/><path d="M284.5,806.7V814.0M281.7,806.7H287.3M281.7,814.0H287.3"/><path d="M304.3,801.3V809.2M301.5,801.3H307.1M301.5,809.2H307.1"/><path d="M324.0,793.0V801.9M321.2,793.0H326.8M321.2,801.9H326.8"/><path d="M343.7,785.7V795.5M340.9,785.7H346.5M340.9,795.5H346.5"/><path d="M363.5,774.0V785.2M360.7,774.0H366.3M360.7,785.2H366.3"/><path d="M383.2,759.4V772.3M380.4,759.4H386.0M380.4,772.3H386.0"/><path d="M403.0,742.4V757.2M400.2,742.4H405.8M400.2,757.2H405.8"/><path d="M422.7,728.3V744.7M419.9,728.3H425.5M419.9,744.7H425.5"/><path d="M442.4,705.9V724.9M439.6,705.9H445.2M439.6,724.9H445.2"/><path d="M462.2,679.6V701.7M459.4,679.6H465.0M459.4,701.7H465.0"/><path d="M481.9,657.2V681.9M479.1,657.2H484.7M479.1,681.9H484.7"/><path d="M501.7,633.8V661.3M498.9,633.8H504.5M498.9,661.3H504.5"/><path d="M521.4,610.9V641.1M518.6,610.9H524.2M518.6,641.1H524.2"/></g>
<polyline points="126.6,830.0 146.3,828.7 166.1,827.3 185.8,825.9 205.6,825.5 225.3,821.3 245.0,818.1 264.8,815.4 284.5,810.3 304.3,805.3 324.0,797.5 343.7,790.6 363.5,779.6 383.2,765.8 403.0,749.8 422.7,736.5 442.4,715.4 462.2,690.7 481.9,669.6 501.7,647.6 521.4,626.0" fill="none" stroke="#ff0000" stroke-width="1.5" stroke-linejoin="round"/>
<g><rect x="123.7" y="827.1" width="5.8" height="5.8" fill="#ff0000"/><rect x="143.4" y="825.8" width="5.8" height="5.8" fill="#ff0000"/><rect x="163.2" y="824.4" width="5.8" height="5.8" fill="#ff0000"/><rect x="182.9" y="823.0" width="5.8" height="5.8" fill="#ff0000"/><rect x="202.7" y="822.6" width="5.8" height="5.8" fill="#ff0000"/><rect x="222.4" y="818.4" width="5.8" height="5.8" fill="#ff0000"/><rect x="242.1" y="815.2" width="5.8" height="5.8" fill="#ff0000"/><rect x="261.9" y="812.5" width="5.8" height="5.8" fill="#ff0000"/><rect x="281.6" y="807.4" width="5.8" height="5.8" fill="#ff0000"/><rect x="301.4" y="802.4" width="5.8" height="5.8" fill="#ff0000"/><rect x="321.1" y="794.6" width="5.8" height="5.8" fill="#ff0000"/><rect x="340.8" y="787.7" width="5.8" height="5.8" fill="#ff0000"/><rect x="360.6" y="776.7" width="5.8" height="5.8" fill="#ff0000"/><rect x="380.3" y="762.9" width="5.8" height="5.8" fill="#ff0000"/><rect x="400.1" y="746.9" width="5.8" height="5.8" fill="#ff0000"/><rect x="419.8" y="733.6" width="5.8" height="5.8" fill="#ff0000"/><rect x="439.5" y="712.5" width="5.8" height="5.8" fill="#ff0000"/><rect x="459.3" y="687.8" width="5.8" height="5.8" fill="#ff0000"/><rect x="479.0" y="666.7" width="5.8" height="5.8" fill="#ff0000"/><rect x="498.8" y="644.7" width="5.8" height="5.8" fill="#ff0000"/><rect x="518.5" y="623.1" width="5.8" height="5.8" fill="#ff0000"/></g>
<g stroke="#0000ff" stroke-width="1.3" fill="none"><path d="M126.6,831.0V834.5M123.8,831.0H129.4M123.8,834.5H129.4"/><path d="M146.3,828.7V832.3M143.5,828.7H149.1M143.5,832.3H149.1"/><path d="M166.1,827.9V831.7M163.3,827.9H168.9M163.3,831.7H168.9"/><path d="M185.8,825.3V829.3M183.0,825.3H188.6M183.0,829.3H188.6"/><path d="M205.6,822.4V826.6M202.8,822.4H208.4M202.8,826.6H208.4"/><path d="M225.3,818.1V822.7M222.5,818.1H228.1M222.5,822.7H228.1"/><path d="M245.0,811.9V817.0M242.2,811.9H247.8M242.2,817.0H247.8"/><path d="M264.8,804.3V809.9M262.0,804.3H267.6M262.0,809.9H267.6"/><path d="M284.5,795.7V802.0M281.7,795.7H287.3M281.7,802.0H287.3"/><path d="M304.3,786.6V793.7M301.5,786.6H307.1M301.5,793.7H307.1"/><path d="M324.0,774.2V782.3M321.2,774.2H326.8M321.2,782.3H326.8"/><path d="M343.7,758.9V768.2M340.9,758.9H346.5M340.9,768.2H346.5"/><path d="M363.5,742.7V753.3M360.7,742.7H366.3M360.7,753.3H366.3"/><path d="M383.2,719.7V732.2M380.4,719.7H386.0M380.4,732.2H386.0"/><path d="M403.0,695.4V709.8M400.2,695.4H405.8M400.2,709.8H405.8"/><path d="M422.7,668.1V684.7M419.9,668.1H425.5M419.9,684.7H425.5"/><path d="M442.4,638.5V657.5M439.6,638.5H445.2M439.6,657.5H445.2"/><path d="M462.2,607.9V629.4M459.4,607.9H465.0M459.4,629.4H465.0"/><path d="M481.9,575.4V599.5M479.1,575.4H484.7M479.1,599.5H484.7"/><path d="M501.7,544.9V571.4M498.9,544.9H504.5M498.9,571.4H504.5"/><path d="M521.4,515.2V544.2M518.6,515.2H524.2M518.6,544.2H524.2"/></g>
<polyline points="126.6,832.8 146.3,830.5 166.1,829.8 185.8,827.3 205.6,824.5 225.3,820.4 245.0,814.4 264.8,807.1 284.5,798.9 304.3,790.1 324.0,778.2 343.7,763.6 363.5,748.0 383.2,726.0 403.0,702.6 422.7,676.4 442.4,648.0 462.2,618.7 481.9,587.5 501.7,558.1 521.4,529.7" fill="none" stroke="#0000ff" stroke-width="1.5" stroke-linejoin="round"/>
<g><circle cx="126.6" cy="832.8" r="2.90" fill="#0000ff"/><circle cx="146.3" cy="830.5" r="2.90" fill="#0000ff"/><circle cx="166.1" cy="829.8" r="2.90" fill="#0000ff"/><circle cx="185.8" cy="827.3" r="2.90" fill="#0000ff"/><circle cx="205.6" cy="824.5" r="2.90" fill="#0000ff"/><circle cx="225.3" cy="820.4" r="2.90" fill="#0000ff"/><circle cx="245.0" cy="814.4" r="2.90" fill="#0000ff"/><circle cx="264.8" cy="807.1" r="2.90" fill="#0000ff"/><circle cx="284.5" cy="798.9" r="2.90" fill="#0000ff"/><circle cx="304.3" cy="790.1" r="2.90" fill="#0000ff"/><circle cx="324.0" cy="778.2" r="2.90" fill="#0000ff"/><circle cx="343.7" cy="763.6" r="2.90" fill="#0000ff"/><circle cx="363.5" cy="748.0" r="2.90" fill="#0000ff"/><circle cx="383.2" cy="726.0" r="2.90" fill="#0000ff"/><circle cx="403.0" cy="702.6" r="2.90" fill="#0000ff"/><circle cx="422.7" cy="676.4" r="2.90" fill="#0000ff"/><circle cx="442.4" cy="648.0" r="2.90" fill="#0000ff"/><circle cx="462.2" cy="618.7" r="2.90" fill="#0000ff"/><circle cx="481.9" cy="587.5" r="2.90" fill="#0000ff"/><circle cx="501.7" cy="558.1" r="2.90" fill="#0000ff"/><circle cx="521.4" cy="529.7" r="2.90" fill="#0000ff"/></g>
<text x="222.0" y="422.8" font-size="47.5" font-weight="bold" fill="#595959">HEK293</text>
<text transform="translate(66.1,617.6) rotate(-90)" font-size="21.5" font-weight="bold" text-anchor="middle">% Confluency</text>
<text x="324.5" y="915.0" font-size="22.3" text-anchor="middle" font-weight="bold">Time (hr)</text>
<path d="M552.5,522.9H570.6V624.5H552.5" fill="none" stroke="#000" stroke-width="1.3"/>
<text x="619.5" y="566.1" font-size="20" text-anchor="middle">***</text>
<text x="617.6" y="593.0" font-size="22.5" text-anchor="middle" font-style="italic">p=0.001</text>
<line x1="126.6" y1="956.2" x2="154.4" y2="956.2" stroke="#0000ff" stroke-width="1.5"/>
<circle cx="140.5" cy="956.2" r="2.80" fill="#0000ff"/>
<text x="169.6" y="964.0" font-size="22">HEK293</text>
<line x1="126.6" y1="991.5" x2="154.4" y2="991.5" stroke="#ff0000" stroke-width="1.5"/>
<rect x="137.9" y="988.9" width="5.2" height="5.2" fill="#ff0000"/>
<text x="169.6" y="999.3" font-size="22">HEK293 FAM122A KO</text>
<rect x="118.9" y="1057.0" width="4.0" height="473.0" fill="#000"/>
<rect x="109.7" y="1516.5" width="408.7" height="4.0" fill="#000"/>
<rect x="109.7" y="1424.6" width="11.2" height="4.0" fill="#000"/>
<rect x="109.7" y="1332.7" width="11.2" height="4.0" fill="#000"/>
<rect x="109.7" y="1240.8" width="11.2" height="4.0" fill="#000"/>
<rect x="109.7" y="1148.9" width="11.2" height="4.0" fill="#000"/>
<rect x="109.7" y="1057.0" width="11.2" height="4.0" fill="#000"/>
<rect x="198.0" y="1518.5" width="4.0" height="11.5" fill="#000"/>
<rect x="277.1" y="1518.5" width="4.0" height="11.5" fill="#000"/>
<rect x="356.2" y="1518.5" width="4.0" height="11.5" fill="#000"/>
<rect x="435.3" y="1518.5" width="4.0" height="11.5" fill="#000"/>
<rect x="514.4" y="1518.5" width="4.0" height="11.5" fill="#000"/>
<text x="107.2" y="1525.7" font-size="21" text-anchor="end" font-weight="bold">0</text>
<text x="107.2" y="1433.8" font-size="21" text-anchor="end" font-weight="bold">20</text>
<text x="107.2" y="1341.9" font-size="21" text-anchor="end" font-weight="bold">40</text>
<text x="107.2" y="1250.0" font-size="21" text-anchor="end" font-weight="bold">60</text>
<text x="107.2" y="1158.1" font-size="21" text-anchor="end" font-weight="bold">80</text>
<text x="107.2" y="1066.2" font-size="21" text-anchor="end" font-weight="bold">100</text>
<text x="120.9" y="1552.5" font-size="21" text-anchor="middle" font-weight="bold">0</text>
<text x="200.0" y="1552.5" font-size="21" text-anchor="middle" font-weight="bold">20</text>
<text x="279.1" y="1552.5" font-size="21" text-anchor="middle" font-weight="bold">40</text>
<text x="358.2" y="1552.5" font-size="21" text-anchor="middle" font-weight="bold">60</text>
<text x="437.3" y="1552.5" font-size="21" text-anchor="middle" font-weight="bold">80</text>
<text x="516.4" y="1552.5" font-size="21" text-anchor="middle" font-weight="bold">100</text>
<g stroke="#ff0000" stroke-width="1.3" fill="none"><path d="M120.9,1504.6V1508.5M118.1,1504.6H123.7M118.1,1508.5H123.7"/><path d="M144.6,1500.3V1504.5M141.8,1500.3H147.4M141.8,1504.5H147.4"/><path d="M168.4,1496.0V1500.6M165.6,1496.0H171.2M165.6,1500.6H171.2"/><path d="M192.1,1491.2V1496.2M189.3,1491.2H194.9M189.3,1496.2H194.9"/><path d="M215.8,1484.5V1490.0M213.0,1484.5H218.6M213.0,1490.0H218.6"/><path d="M239.6,1477.7V1483.9M236.8,1477.7H242.4M236.8,1483.9H242.4"/><path d="M263.3,1468.1V1475.1M260.5,1468.1H266.1M260.5,1475.1H266.1"/><path d="M287.0,1456.1V1464.1M284.2,1456.1H289.8M284.2,1464.1H289.8"/><path d="M310.7,1439.8V1449.2M307.9,1439.8H313.5M307.9,1449.2H313.5"/><path d="M334.5,1424.9V1435.6M331.7,1424.9H337.3M331.7,1435.6H337.3"/><path d="M358.2,1411.0V1422.9M355.4,1411.0H361.0M355.4,1422.9H361.0"/><path d="M381.9,1388.4V1402.3M379.1,1388.4H384.7M379.1,1402.3H384.7"/><path d="M405.7,1365.9V1381.6M402.9,1365.9H408.5M402.9,1381.6H408.5"/><path d="M429.4,1337.5V1355.8M426.6,1337.5H432.2M426.6,1355.8H432.2"/><path d="M453.1,1307.8V1328.6M450.3,1307.8H455.9M450.3,1328.6H455.9"/><path d="M476.9,1273.2V1297.0M474.1,1273.2H479.7M474.1,1297.0H479.7"/><path d="M500.6,1235.3V1262.3M497.8,1235.3H503.4M497.8,1262.3H503.4"/></g>
<polyline points="120.9,1506.6 144.6,1502.4 168.4,1498.3 192.1,1493.7 215.8,1487.3 239.6,1480.8 263.3,1471.6 287.0,1460.1 310.7,1444.5 334.5,1430.3 358.2,1417.0 381.9,1395.4 405.7,1373.8 429.4,1346.6 453.1,1318.2 476.9,1285.1 500.6,1248.8" fill="none" stroke="#ff0000" stroke-width="1.5" stroke-linejoin="round"/>
<g><rect x="118.0" y="1503.7" width="5.8" height="5.8" fill="#ff0000"/><rect x="141.7" y="1499.5" width="5.8" height="5.8" fill="#ff0000"/><rect x="165.5" y="1495.4" width="5.8" height="5.8" fill="#ff0000"/><rect x="189.2" y="1490.8" width="5.8" height="5.8" fill="#ff0000"/><rect x="212.9" y="1484.4" width="5.8" height="5.8" fill="#ff0000"/><rect x="236.7" y="1477.9" width="5.8" height="5.8" fill="#ff0000"/><rect x="260.4" y="1468.7" width="5.8" height="5.8" fill="#ff0000"/><rect x="284.1" y="1457.2" width="5.8" height="5.8" fill="#ff0000"/><rect x="307.8" y="1441.6" width="5.8" height="5.8" fill="#ff0000"/><rect x="331.6" y="1427.4" width="5.8" height="5.8" fill="#ff0000"/><rect x="355.3" y="1414.1" width="5.8" height="5.8" fill="#ff0000"/><rect x="379.0" y="1392.5" width="5.8" height="5.8" fill="#ff0000"/><rect x="402.8" y="1370.9" width="5.8" height="5.8" fill="#ff0000"/><rect x="426.5" y="1343.7" width="5.8" height="5.8" fill="#ff0000"/><rect x="450.2" y="1315.3" width="5.8" height="5.8" fill="#ff0000"/><rect x="474.0" y="1282.2" width="5.8" height="5.8" fill="#ff0000"/><rect x="497.7" y="1245.9" width="5.8" height="5.8" fill="#ff0000"/></g>
<g stroke="#0000ff" stroke-width="1.3" fill="none"><path d="M120.9,1500.6V1504.3M118.1,1500.6H123.7M118.1,1504.3H123.7"/><path d="M144.6,1489.2V1493.6M141.8,1489.2H147.4M141.8,1493.6H147.4"/><path d="M168.4,1484.9V1489.6M165.6,1484.9H171.2M165.6,1489.6H171.2"/><path d="M192.1,1478.8V1483.8M189.3,1478.8H194.9M189.3,1483.8H194.9"/><path d="M215.8,1474.1V1479.3M213.0,1474.1H218.6M213.0,1479.3H218.6"/><path d="M239.6,1468.4V1474.0M236.8,1468.4H242.4M236.8,1474.0H242.4"/><path d="M263.3,1459.4V1465.5M260.5,1459.4H266.1M260.5,1465.5H266.1"/><path d="M287.0,1449.4V1456.1M284.2,1449.4H289.8M284.2,1456.1H289.8"/><path d="M310.7,1438.1V1445.4M307.9,1438.1H313.5M307.9,1445.4H313.5"/><path d="M334.5,1421.5V1429.8M331.7,1421.5H337.3M331.7,1429.8H337.3"/><path d="M358.2,1401.6V1411.1M355.4,1401.6H361.0M355.4,1411.1H361.0"/><path d="M381.9,1372.8V1383.9M379.1,1372.8H384.7M379.1,1383.9H384.7"/><path d="M405.7,1335.9V1349.2M402.9,1335.9H408.5M402.9,1349.2H408.5"/><path d="M429.4,1288.5V1304.6M426.6,1288.5H432.2M426.6,1304.6H432.2"/><path d="M453.1,1234.1V1253.3M450.3,1234.1H455.9M450.3,1253.3H455.9"/><path d="M476.9,1178.7V1201.2M474.1,1178.7H479.7M474.1,1201.2H479.7"/><path d="M500.6,1130.4V1155.7M497.8,1130.4H503.4M497.8,1155.7H503.4"/></g>
<polyline points="120.9,1502.4 144.6,1491.4 168.4,1487.3 192.1,1481.3 215.8,1476.7 239.6,1471.2 263.3,1462.4 287.0,1452.8 310.7,1441.8 334.5,1425.7 358.2,1406.4 381.9,1378.4 405.7,1342.5 429.4,1296.6 453.1,1243.7 476.9,1190.0 500.6,1143.1" fill="none" stroke="#0000ff" stroke-width="1.5" stroke-linejoin="round"/>
<g><circle cx="120.9" cy="1502.4" r="2.90" fill="#0000ff"/><circle cx="144.6" cy="1491.4" r="2.90" fill="#0000ff"/><circle cx="168.4" cy="1487.3" r="2.90" fill="#0000ff"/><circle cx="192.1" cy="1481.3" r="2.90" fill="#0000ff"/><circle cx="215.8" cy="1476.7" r="2.90" fill="#0000ff"/><circle cx="239.6" cy="1471.2" r="2.90" fill="#0000ff"/><circle cx="263.3" cy="1462.4" r="2.90" fill="#0000ff"/><circle cx="287.0" cy="1452.8" r="2.90" fill="#0000ff"/><circle cx="310.7" cy="1441.8" r="2.90" fill="#0000ff"/><circle cx="334.5" cy="1425.7" r="2.90" fill="#0000ff"/><circle cx="358.2" cy="1406.4" r="2.90" fill="#0000ff"/><circle cx="381.9" cy="1378.4" r="2.90" fill="#0000ff"/><circle cx="405.7" cy="1342.5" r="2.90" fill="#0000ff"/><circle cx="429.4" cy="1296.6" r="2.90" fill="#0000ff"/><circle cx="453.1" cy="1243.7" r="2.90" fill="#0000ff"/><circle cx="476.9" cy="1190.0" r="2.90" fill="#0000ff"/><circle cx="500.6" cy="1143.1" r="2.90" fill="#0000ff"/></g>
<text x="252.6" y="1101.5" font-size="46" font-weight="bold" fill="#595959">T98G</text>
<text transform="translate(60.1,1288.3) rotate(-90)" font-size="21.5" font-weight="bold" text-anchor="middle">% Confluency</text>
<text x="319.2" y="1587.5" font-size="22.3" text-anchor="middle" font-weight="bold">Time (hr)</text>
<path d="M523.7,1133.6H535.8V1249.9H523.7" fill="none" stroke="#000" stroke-width="1.3"/>
<text x="583.6" y="1185.1" font-size="20" text-anchor="middle">**</text>
<text x="583.6" y="1212.0" font-size="22.3" text-anchor="middle">p=0.002</text>
<line x1="206.8" y1="1630.5" x2="235.0" y2="1630.5" stroke="#0000ff" stroke-width="1.5"/>
<circle cx="220.9" cy="1630.5" r="2.80" fill="#0000ff"/>
<text x="250.3" y="1638.3" font-size="22">T98G</text>
<line x1="206.8" y1="1666.0" x2="235.0" y2="1666.0" stroke="#ff0000" stroke-width="1.5"/>
<rect x="218.3" y="1663.4" width="5.2" height="5.2" fill="#ff0000"/>
<text x="250.3" y="1673.8" font-size="22">T98G FAM122A KO</text>
<text x="854.2" y="929.3" font-size="53.5" font-weight="bold" font-style="italic" fill="#595959">FAM122A</text>
<text x="1106.3" y="929.3" font-size="53.5" font-weight="bold" fill="#595959">KO HEK-293 cells</text>
<rect x="732.4" y="1033.0" width="3.9" height="454.8" fill="#000"/>
<rect x="721.8" y="1473.0" width="393.1" height="3.9" fill="#000"/>
<rect x="721.8" y="1385.0" width="12.6" height="3.9" fill="#000"/>
<rect x="721.8" y="1297.0" width="12.6" height="3.9" fill="#000"/>
<rect x="721.8" y="1209.0" width="12.6" height="3.9" fill="#000"/>
<rect x="721.8" y="1121.0" width="12.6" height="3.9" fill="#000"/>
<rect x="721.8" y="1033.0" width="12.6" height="3.9" fill="#000"/>
<rect x="795.5" y="1475.0" width="3.9" height="12.8" fill="#000"/>
<rect x="858.6" y="1475.0" width="3.9" height="12.8" fill="#000"/>
<rect x="921.7" y="1475.0" width="3.9" height="12.8" fill="#000"/>
<rect x="984.8" y="1475.0" width="3.9" height="12.8" fill="#000"/>
<rect x="1047.9" y="1475.0" width="3.9" height="12.8" fill="#000"/>
<rect x="1111.0" y="1475.0" width="3.9" height="12.8" fill="#000"/>
<text x="719.4" y="1481.8" font-size="19.6" text-anchor="end" font-weight="bold">0</text>
<text x="719.4" y="1393.8" font-size="19.6" text-anchor="end" font-weight="bold">20</text>
<text x="719.4" y="1305.8" font-size="19.6" text-anchor="end" font-weight="bold">40</text>
<text x="719.4" y="1217.8" font-size="19.6" text-anchor="end" font-weight="bold">60</text>
<text x="719.4" y="1129.8" font-size="19.6" text-anchor="end" font-weight="bold">80</text>
<text x="719.4" y="1041.8" font-size="19.6" text-anchor="end" font-weight="bold">100</text>
<text x="734.4" y="1508.3" font-size="19.6" text-anchor="middle" font-weight="bold">0</text>
<text x="797.5" y="1508.3" font-size="19.6" text-anchor="middle" font-weight="bold">20</text>
<text x="860.6" y="1508.3" font-size="19.6" text-anchor="middle" font-weight="bold">40</text>
<text x="923.7" y="1508.3" font-size="19.6" text-anchor="middle" font-weight="bold">60</text>
<text x="986.8" y="1508.3" font-size="19.6" text-anchor="middle" font-weight="bold">80</text>
<text x="1049.8" y="1508.3" font-size="19.6" text-anchor="middle" font-weight="bold">100</text>
<text x="1112.9" y="1508.3" font-size="19.6" text-anchor="middle" font-weight="bold">120</text>
<line x1="1055" y1="1100.8" x2="1705" y2="1100.8" stroke="#2f5fc4" stroke-width="2.3" stroke-dasharray="7,4.8"/>
<line x1="1071" y1="1199.3" x2="1709" y2="1199.3" stroke="#ff0000" stroke-width="2.6" stroke-dasharray="6.6,5.2"/>
<g stroke="#ff0000" stroke-width="1.4" fill="none"><path d="M734.4,1448.7V1453.4M731.1,1448.7H737.7M731.1,1453.4H737.7"/><path d="M747.0,1448.0V1452.8M743.7,1448.0H750.3M743.7,1452.8H750.3"/><path d="M759.6,1448.0V1452.8M756.3,1448.0H762.9M756.3,1452.8H762.9"/><path d="M772.3,1446.1V1451.1M769.0,1446.1H775.6M769.0,1451.1H775.6"/><path d="M784.9,1444.2V1449.5M781.6,1444.2H788.2M781.6,1449.5H788.2"/><path d="M797.5,1442.3V1447.8M794.2,1442.3H800.8M794.2,1447.8H800.8"/><path d="M810.1,1440.5V1446.2M806.8,1440.5H813.4M806.8,1446.2H813.4"/><path d="M822.7,1438.1V1444.1M819.4,1438.1H826.0M819.4,1444.1H826.0"/><path d="M835.3,1434.9V1441.2M832.0,1434.9H838.6M832.0,1441.2H838.6"/><path d="M848.0,1432.5V1439.1M844.7,1432.5H851.3M844.7,1439.1H851.3"/><path d="M860.6,1428.3V1435.4M857.3,1428.3H863.9M857.3,1435.4H863.9"/><path d="M873.2,1423.2V1430.9M869.9,1423.2H876.5M869.9,1430.9H876.5"/><path d="M885.8,1416.6V1425.1M882.5,1416.6H889.1M882.5,1425.1H889.1"/><path d="M898.4,1409.6V1418.9M895.1,1409.6H901.7M895.1,1418.9H901.7"/><path d="M911.1,1400.8V1411.1M907.8,1400.8H914.4M907.8,1411.1H914.4"/><path d="M923.7,1389.1V1400.8M920.4,1389.1H927.0M920.4,1400.8H927.0"/><path d="M936.3,1376.9V1390.0M933.0,1376.9H939.6M933.0,1390.0H939.6"/><path d="M948.9,1363.4V1378.1M945.6,1363.4H952.2M945.6,1378.1H952.2"/><path d="M961.5,1350.3V1366.5M958.2,1350.3H964.8M958.2,1366.5H964.8"/><path d="M974.1,1332.1V1350.4M970.8,1332.1H977.4M970.8,1350.4H977.4"/><path d="M986.8,1312.0V1332.7M983.5,1312.0H990.1M983.5,1332.7H990.1"/><path d="M999.4,1290.0V1313.3M996.1,1290.0H1002.7M996.1,1313.3H1002.7"/><path d="M1012.0,1269.0V1294.7M1008.7,1269.0H1015.3M1008.7,1294.7H1015.3"/><path d="M1024.6,1244.2V1272.8M1021.3,1244.2H1027.9M1021.3,1272.8H1027.9"/><path d="M1037.2,1222.7V1253.8M1033.9,1222.7H1040.5M1033.9,1253.8H1040.5"/><path d="M1049.8,1198.0V1232.0M1046.5,1198.0H1053.1M1046.5,1232.0H1053.1"/><path d="M1062.5,1177.4V1213.8M1059.2,1177.4H1065.8M1059.2,1213.8H1065.8"/></g>
<polyline points="734.4,1451.0 747.0,1450.4 759.6,1450.4 772.3,1448.6 784.9,1446.8 797.5,1445.1 810.1,1443.3 822.7,1441.1 835.3,1438.0 848.0,1435.8 860.6,1431.9 873.2,1427.0 885.8,1420.9 898.4,1414.3 911.1,1405.9 923.7,1394.9 936.3,1383.5 948.9,1370.7 961.5,1358.4 974.1,1341.2 986.8,1322.3 999.4,1301.6 1012.0,1281.8 1024.6,1258.5 1037.2,1238.3 1049.8,1215.0 1062.5,1195.6" fill="none" stroke="#ff0000" stroke-width="1.5" stroke-linejoin="round"/>
<g><rect x="731.8" y="1448.4" width="5.2" height="5.2" fill="#ff0000"/><rect x="744.4" y="1447.8" width="5.2" height="5.2" fill="#ff0000"/><rect x="757.0" y="1447.8" width="5.2" height="5.2" fill="#ff0000"/><rect x="769.7" y="1446.0" width="5.2" height="5.2" fill="#ff0000"/><rect x="782.3" y="1444.2" width="5.2" height="5.2" fill="#ff0000"/><rect x="794.9" y="1442.5" width="5.2" height="5.2" fill="#ff0000"/><rect x="807.5" y="1440.7" width="5.2" height="5.2" fill="#ff0000"/><rect x="820.1" y="1438.5" width="5.2" height="5.2" fill="#ff0000"/><rect x="832.7" y="1435.4" width="5.2" height="5.2" fill="#ff0000"/><rect x="845.4" y="1433.2" width="5.2" height="5.2" fill="#ff0000"/><rect x="858.0" y="1429.3" width="5.2" height="5.2" fill="#ff0000"/><rect x="870.6" y="1424.4" width="5.2" height="5.2" fill="#ff0000"/><rect x="883.2" y="1418.3" width="5.2" height="5.2" fill="#ff0000"/><rect x="895.8" y="1411.7" width="5.2" height="5.2" fill="#ff0000"/><rect x="908.5" y="1403.3" width="5.2" height="5.2" fill="#ff0000"/><rect x="921.1" y="1392.3" width="5.2" height="5.2" fill="#ff0000"/><rect x="933.7" y="1380.9" width="5.2" height="5.2" fill="#ff0000"/><rect x="946.3" y="1368.1" width="5.2" height="5.2" fill="#ff0000"/><rect x="958.9" y="1355.8" width="5.2" height="5.2" fill="#ff0000"/><rect x="971.5" y="1338.6" width="5.2" height="5.2" fill="#ff0000"/><rect x="984.2" y="1319.7" width="5.2" height="5.2" fill="#ff0000"/><rect x="996.8" y="1299.0" width="5.2" height="5.2" fill="#ff0000"/><rect x="1009.4" y="1279.2" width="5.2" height="5.2" fill="#ff0000"/><rect x="1022.0" y="1255.9" width="5.2" height="5.2" fill="#ff0000"/><rect x="1034.6" y="1235.7" width="5.2" height="5.2" fill="#ff0000"/><rect x="1047.2" y="1212.4" width="5.2" height="5.2" fill="#ff0000"/><rect x="1059.9" y="1193.0" width="5.2" height="5.2" fill="#ff0000"/></g>
<g stroke="#00f000" stroke-width="1.4" fill="none"><path d="M734.4,1444.3V1449.4M731.1,1444.3H737.7M731.1,1449.4H737.7"/><path d="M747.0,1443.4V1448.5M743.7,1443.4H750.3M743.7,1448.5H750.3"/><path d="M759.6,1442.0V1447.3M756.3,1442.0H762.9M756.3,1447.3H762.9"/><path d="M772.3,1440.6V1446.0M769.0,1440.6H775.6M769.0,1446.0H775.6"/><path d="M784.9,1438.8V1444.3M781.6,1438.8H788.2M781.6,1444.3H788.2"/><path d="M797.5,1437.0V1442.6M794.2,1437.0H800.8M794.2,1442.6H800.8"/><path d="M810.1,1435.1V1441.0M806.8,1435.1H813.4M806.8,1441.0H813.4"/><path d="M822.7,1431.2V1437.4M819.4,1431.2H826.0M819.4,1437.4H826.0"/><path d="M835.3,1428.7V1435.1M832.0,1428.7H838.6M832.0,1435.1H838.6"/><path d="M848.0,1424.6V1431.3M844.7,1424.6H851.3M844.7,1431.3H851.3"/><path d="M860.6,1419.8V1426.8M857.3,1419.8H863.9M857.3,1426.8H863.9"/><path d="M873.2,1415.2V1422.6M869.9,1415.2H876.5M869.9,1422.6H876.5"/><path d="M885.8,1409.0V1416.9M882.5,1409.0H889.1M882.5,1416.9H889.1"/><path d="M898.4,1400.3V1408.9M895.1,1400.3H901.7M895.1,1408.9H901.7"/><path d="M911.1,1389.4V1398.7M907.8,1389.4H914.4M907.8,1398.7H914.4"/><path d="M923.7,1378.9V1389.0M920.4,1378.9H927.0M920.4,1389.0H927.0"/><path d="M936.3,1365.2V1376.2M933.0,1365.2H939.6M933.0,1376.2H939.6"/><path d="M948.9,1348.4V1360.5M945.6,1348.4H952.2M945.6,1360.5H952.2"/><path d="M961.5,1330.6V1343.9M958.2,1330.6H964.8M958.2,1343.9H964.8"/><path d="M974.1,1307.0V1321.8M970.8,1307.0H977.4M970.8,1321.8H977.4"/><path d="M986.8,1285.3V1301.3M983.5,1285.3H990.1M983.5,1301.3H990.1"/><path d="M999.4,1261.8V1279.0M996.1,1261.8H1002.7M996.1,1279.0H1002.7"/><path d="M1012.0,1235.2V1253.7M1008.7,1235.2H1015.3M1008.7,1253.7H1015.3"/><path d="M1024.6,1210.4V1230.1M1021.3,1210.4H1027.9M1021.3,1230.1H1027.9"/><path d="M1037.2,1184.4V1205.1M1033.9,1184.4H1040.5M1033.9,1205.1H1040.5"/><path d="M1049.8,1160.6V1182.2M1046.5,1160.6H1053.1M1046.5,1182.2H1053.1"/><path d="M1062.5,1138.2V1160.6M1059.2,1138.2H1065.8M1059.2,1160.6H1065.8"/></g>
<polyline points="734.4,1446.8 747.0,1446.0 759.6,1444.6 772.3,1443.3 784.9,1441.6 797.5,1439.8 810.1,1438.0 822.7,1434.3 835.3,1431.9 848.0,1427.9 860.6,1423.3 873.2,1418.9 885.8,1413.0 898.4,1404.6 911.1,1394.0 923.7,1383.9 936.3,1370.7 948.9,1354.4 961.5,1337.3 974.1,1314.4 986.8,1293.3 999.4,1270.4 1012.0,1244.4 1024.6,1220.2 1037.2,1194.7 1049.8,1171.4 1062.5,1149.4" fill="none" stroke="#00f000" stroke-width="1.5" stroke-linejoin="round"/>
<g><path d="M734.4,1443.8L737.2,1448.8L731.6,1448.8Z" fill="#00f000"/><path d="M747.0,1442.9L749.8,1447.9L744.2,1447.9Z" fill="#00f000"/><path d="M759.6,1441.6L762.4,1446.6L756.8,1446.6Z" fill="#00f000"/><path d="M772.3,1440.2L775.1,1445.3L769.5,1445.3Z" fill="#00f000"/><path d="M784.9,1438.5L787.7,1443.5L782.1,1443.5Z" fill="#00f000"/><path d="M797.5,1436.7L800.3,1441.8L794.7,1441.8Z" fill="#00f000"/><path d="M810.1,1435.0L812.9,1440.0L807.3,1440.0Z" fill="#00f000"/><path d="M822.7,1431.2L825.5,1436.3L819.9,1436.3Z" fill="#00f000"/><path d="M835.3,1428.8L838.1,1433.8L832.5,1433.8Z" fill="#00f000"/><path d="M848.0,1424.8L850.8,1429.9L845.2,1429.9Z" fill="#00f000"/><path d="M860.6,1420.2L863.4,1425.3L857.8,1425.3Z" fill="#00f000"/><path d="M873.2,1415.8L876.0,1420.9L870.4,1420.9Z" fill="#00f000"/><path d="M885.8,1409.9L888.6,1414.9L883.0,1414.9Z" fill="#00f000"/><path d="M898.4,1401.5L901.2,1406.6L895.6,1406.6Z" fill="#00f000"/><path d="M911.1,1391.0L913.9,1396.0L908.3,1396.0Z" fill="#00f000"/><path d="M923.7,1380.8L926.5,1385.9L920.9,1385.9Z" fill="#00f000"/><path d="M936.3,1367.6L939.1,1372.7L933.5,1372.7Z" fill="#00f000"/><path d="M948.9,1351.4L951.7,1356.4L946.1,1356.4Z" fill="#00f000"/><path d="M961.5,1334.2L964.3,1339.2L958.7,1339.2Z" fill="#00f000"/><path d="M974.1,1311.3L976.9,1316.4L971.3,1316.4Z" fill="#00f000"/><path d="M986.8,1290.2L989.6,1295.2L984.0,1295.2Z" fill="#00f000"/><path d="M999.4,1267.3L1002.2,1272.4L996.6,1272.4Z" fill="#00f000"/><path d="M1012.0,1241.4L1014.8,1246.4L1009.2,1246.4Z" fill="#00f000"/><path d="M1024.6,1217.2L1027.4,1222.2L1021.8,1222.2Z" fill="#00f000"/><path d="M1037.2,1191.6L1040.0,1196.7L1034.4,1196.7Z" fill="#00f000"/><path d="M1049.8,1168.3L1052.6,1173.4L1047.0,1173.4Z" fill="#00f000"/><path d="M1062.5,1146.3L1065.3,1151.4L1059.7,1151.4Z" fill="#00f000"/></g>
<g stroke="#007a1a" stroke-width="1.4" fill="none"><path d="M734.4,1440.3V1447.2M731.1,1440.3H737.7M731.1,1447.2H737.7"/><path d="M747.0,1439.6V1446.6M743.7,1439.6H750.3M743.7,1446.6H750.3"/><path d="M759.6,1438.9V1446.0M756.3,1438.9H762.9M756.3,1446.0H762.9"/><path d="M772.3,1437.0V1444.3M769.0,1437.0H775.6M769.0,1444.3H775.6"/><path d="M784.9,1435.6V1443.1M781.6,1435.6H788.2M781.6,1443.1H788.2"/><path d="M797.5,1434.2V1441.9M794.2,1434.2H800.8M794.2,1441.9H800.8"/><path d="M810.1,1430.9V1439.0M806.8,1430.9H813.4M806.8,1439.0H813.4"/><path d="M822.7,1425.3V1434.0M819.4,1425.3H826.0M819.4,1434.0H826.0"/><path d="M835.3,1423.2V1432.2M832.0,1423.2H838.6M832.0,1432.2H838.6"/><path d="M848.0,1419.2V1428.7M844.7,1419.2H851.3M844.7,1428.7H851.3"/><path d="M860.6,1415.0V1425.0M857.3,1415.0H863.9M857.3,1425.0H863.9"/><path d="M873.2,1405.7V1416.7M869.9,1405.7H876.5M869.9,1416.7H876.5"/><path d="M885.8,1396.8V1408.9M882.5,1396.8H889.1M882.5,1408.9H889.1"/><path d="M898.4,1384.7V1398.1M895.1,1384.7H901.7M895.1,1398.1H901.7"/><path d="M911.1,1371.2V1386.1M907.8,1371.2H914.4M907.8,1386.1H914.4"/><path d="M923.7,1356.3V1372.8M920.4,1356.3H927.0M920.4,1372.8H927.0"/><path d="M936.3,1338.7V1357.0M933.0,1338.7H939.6M933.0,1357.0H939.6"/><path d="M948.9,1317.9V1338.2M945.6,1317.9H952.2M945.6,1338.2H952.2"/><path d="M961.5,1295.8V1318.1M958.2,1295.8H964.8M958.2,1318.1H964.8"/><path d="M974.1,1276.0V1300.0M970.8,1276.0H977.4M970.8,1300.0H977.4"/><path d="M986.8,1252.6V1278.5M983.5,1252.6H990.1M983.5,1278.5H990.1"/><path d="M999.4,1227.9V1255.7M996.1,1227.9H1002.7M996.1,1255.7H1002.7"/><path d="M1012.0,1209.6V1238.8M1008.7,1209.6H1015.3M1008.7,1238.8H1015.3"/><path d="M1024.6,1189.6V1220.1M1021.3,1189.6H1027.9M1021.3,1220.1H1027.9"/><path d="M1037.2,1169.6V1201.4M1033.9,1169.6H1040.5M1033.9,1201.4H1040.5"/><path d="M1049.8,1149.7V1182.6M1046.5,1149.7H1053.1M1046.5,1182.6H1053.1"/><path d="M1062.5,1131.2V1165.0M1059.2,1131.2H1065.8M1059.2,1165.0H1065.8"/></g>
<polyline points="734.4,1443.8 747.0,1443.1 759.6,1442.4 772.3,1440.7 784.9,1439.4 797.5,1438.0 810.1,1435.0 822.7,1429.7 835.3,1427.7 848.0,1424.0 860.6,1420.0 873.2,1411.2 885.8,1402.8 898.4,1391.4 911.1,1378.6 923.7,1364.6 936.3,1347.8 948.9,1328.0 961.5,1306.9 974.1,1288.0 986.8,1265.6 999.4,1241.8 1012.0,1224.2 1024.6,1204.8 1037.2,1185.5 1049.8,1166.1 1062.5,1148.1" fill="none" stroke="#007a1a" stroke-width="1.5" stroke-linejoin="round"/>
<g><path d="M734.4,1446.6L737.0,1441.9L731.8,1441.9Z" fill="#007a1a"/><path d="M747.0,1446.0L749.6,1441.3L744.4,1441.3Z" fill="#007a1a"/><path d="M759.6,1445.3L762.2,1440.6L757.0,1440.6Z" fill="#007a1a"/><path d="M772.3,1443.5L774.9,1438.9L769.7,1438.9Z" fill="#007a1a"/><path d="M784.9,1442.2L787.5,1437.5L782.3,1437.5Z" fill="#007a1a"/><path d="M797.5,1440.9L800.1,1436.2L794.9,1436.2Z" fill="#007a1a"/><path d="M810.1,1437.8L812.7,1433.1L807.5,1433.1Z" fill="#007a1a"/><path d="M822.7,1432.5L825.3,1427.9L820.1,1427.9Z" fill="#007a1a"/><path d="M835.3,1430.6L837.9,1425.9L832.7,1425.9Z" fill="#007a1a"/><path d="M848.0,1426.8L850.6,1422.1L845.4,1422.1Z" fill="#007a1a"/><path d="M860.6,1422.9L863.2,1418.2L858.0,1418.2Z" fill="#007a1a"/><path d="M873.2,1414.1L875.8,1409.4L870.6,1409.4Z" fill="#007a1a"/><path d="M885.8,1405.7L888.4,1401.0L883.2,1401.0Z" fill="#007a1a"/><path d="M898.4,1394.3L901.0,1389.6L895.8,1389.6Z" fill="#007a1a"/><path d="M911.1,1381.5L913.7,1376.8L908.5,1376.8Z" fill="#007a1a"/><path d="M923.7,1367.4L926.3,1362.7L921.1,1362.7Z" fill="#007a1a"/><path d="M936.3,1350.7L938.9,1346.0L933.7,1346.0Z" fill="#007a1a"/><path d="M948.9,1330.9L951.5,1326.2L946.3,1326.2Z" fill="#007a1a"/><path d="M961.5,1309.8L964.1,1305.1L958.9,1305.1Z" fill="#007a1a"/><path d="M974.1,1290.9L976.7,1286.2L971.5,1286.2Z" fill="#007a1a"/><path d="M986.8,1268.4L989.4,1263.7L984.2,1263.7Z" fill="#007a1a"/><path d="M999.4,1244.7L1002.0,1240.0L996.8,1240.0Z" fill="#007a1a"/><path d="M1012.0,1227.1L1014.6,1222.4L1009.4,1222.4Z" fill="#007a1a"/><path d="M1024.6,1207.7L1027.2,1203.0L1022.0,1203.0Z" fill="#007a1a"/><path d="M1037.2,1188.3L1039.8,1183.7L1034.6,1183.7Z" fill="#007a1a"/><path d="M1049.8,1169.0L1052.4,1164.3L1047.2,1164.3Z" fill="#007a1a"/><path d="M1062.5,1150.9L1065.1,1146.3L1059.9,1146.3Z" fill="#007a1a"/></g>
<g stroke="#0000ff" stroke-width="1.4" fill="none"><path d="M734.4,1441.6V1447.7M731.1,1441.6H737.7M731.1,1447.7H737.7"/><path d="M747.0,1440.0V1446.2M743.7,1440.0H750.3M743.7,1446.2H750.3"/><path d="M759.6,1437.4V1444.0M756.3,1437.4H762.9M756.3,1444.0H762.9"/><path d="M772.3,1436.0V1442.8M769.0,1436.0H775.6M769.0,1442.8H775.6"/><path d="M784.9,1434.1V1441.1M781.6,1434.1H788.2M781.6,1441.1H788.2"/><path d="M797.5,1429.9V1437.4M794.2,1429.9H800.8M794.2,1437.4H800.8"/><path d="M810.1,1424.7V1432.9M806.8,1424.7H813.4M806.8,1432.9H813.4"/><path d="M822.7,1418.2V1427.1M819.4,1418.2H826.0M819.4,1427.1H826.0"/><path d="M835.3,1411.6V1421.3M832.0,1411.6H838.6M832.0,1421.3H838.6"/><path d="M848.0,1401.4V1412.2M844.7,1401.4H851.3M844.7,1412.2H851.3"/><path d="M860.6,1390.2V1402.3M857.3,1390.2H863.9M857.3,1402.3H863.9"/><path d="M873.2,1376.3V1389.8M869.9,1376.3H876.5M869.9,1389.8H876.5"/><path d="M885.8,1362.0V1376.8M882.5,1362.0H889.1M882.5,1376.8H889.1"/><path d="M898.4,1346.3V1362.5M895.1,1346.3H901.7M895.1,1362.5H901.7"/><path d="M911.1,1327.5V1345.3M907.8,1327.5H914.4M907.8,1345.3H914.4"/><path d="M923.7,1311.5V1330.5M920.4,1311.5H927.0M920.4,1330.5H927.0"/><path d="M936.3,1292.4V1312.6M933.0,1292.4H939.6M933.0,1312.6H939.6"/><path d="M948.9,1275.2V1296.4M945.6,1275.2H952.2M945.6,1296.4H952.2"/><path d="M961.5,1254.9V1277.1M958.2,1254.9H964.8M958.2,1277.1H964.8"/><path d="M974.1,1232.9V1256.0M970.8,1232.9H977.4M970.8,1256.0H977.4"/><path d="M986.8,1213.3V1236.9M983.5,1213.3H990.1M983.5,1236.9H990.1"/><path d="M999.4,1191.5V1215.5M996.1,1191.5H1002.7M996.1,1215.5H1002.7"/><path d="M1012.0,1169.0V1193.2M1008.7,1169.0H1015.3M1008.7,1193.2H1015.3"/><path d="M1024.6,1145.7V1169.9M1021.3,1145.7H1027.9M1021.3,1169.9H1027.9"/><path d="M1037.2,1123.8V1147.7M1033.9,1123.8H1040.5M1033.9,1147.7H1040.5"/><path d="M1049.8,1105.1V1128.5M1046.5,1105.1H1053.1M1046.5,1128.5H1053.1"/><path d="M1062.5,1087.0V1109.8M1059.2,1087.0H1065.8M1059.2,1109.8H1065.8"/></g>
<polyline points="734.4,1444.6 747.0,1443.1 759.6,1440.7 772.3,1439.4 784.9,1437.6 797.5,1433.6 810.1,1428.8 822.7,1422.6 835.3,1416.5 848.0,1406.8 860.6,1396.2 873.2,1383.0 885.8,1369.4 898.4,1354.4 911.1,1336.4 923.7,1321.0 936.3,1302.5 948.9,1285.8 961.5,1266.0 974.1,1244.4 986.8,1225.1 999.4,1203.5 1012.0,1181.1 1024.6,1157.8 1037.2,1135.8 1049.8,1116.8 1062.5,1098.4" fill="none" stroke="#0000ff" stroke-width="1.5" stroke-linejoin="round"/>
<g><circle cx="734.4" cy="1444.6" r="2.60" fill="#0000ff"/><circle cx="747.0" cy="1443.1" r="2.60" fill="#0000ff"/><circle cx="759.6" cy="1440.7" r="2.60" fill="#0000ff"/><circle cx="772.3" cy="1439.4" r="2.60" fill="#0000ff"/><circle cx="784.9" cy="1437.6" r="2.60" fill="#0000ff"/><circle cx="797.5" cy="1433.6" r="2.60" fill="#0000ff"/><circle cx="810.1" cy="1428.8" r="2.60" fill="#0000ff"/><circle cx="822.7" cy="1422.6" r="2.60" fill="#0000ff"/><circle cx="835.3" cy="1416.5" r="2.60" fill="#0000ff"/><circle cx="848.0" cy="1406.8" r="2.60" fill="#0000ff"/><circle cx="860.6" cy="1396.2" r="2.60" fill="#0000ff"/><circle cx="873.2" cy="1383.0" r="2.60" fill="#0000ff"/><circle cx="885.8" cy="1369.4" r="2.60" fill="#0000ff"/><circle cx="898.4" cy="1354.4" r="2.60" fill="#0000ff"/><circle cx="911.1" cy="1336.4" r="2.60" fill="#0000ff"/><circle cx="923.7" cy="1321.0" r="2.60" fill="#0000ff"/><circle cx="936.3" cy="1302.5" r="2.60" fill="#0000ff"/><circle cx="948.9" cy="1285.8" r="2.60" fill="#0000ff"/><circle cx="961.5" cy="1266.0" r="2.60" fill="#0000ff"/><circle cx="974.1" cy="1244.4" r="2.60" fill="#0000ff"/><circle cx="986.8" cy="1225.1" r="2.60" fill="#0000ff"/><circle cx="999.4" cy="1203.5" r="2.60" fill="#0000ff"/><circle cx="1012.0" cy="1181.1" r="2.60" fill="#0000ff"/><circle cx="1024.6" cy="1157.8" r="2.60" fill="#0000ff"/><circle cx="1037.2" cy="1135.8" r="2.60" fill="#0000ff"/><circle cx="1049.8" cy="1116.8" r="2.60" fill="#0000ff"/><circle cx="1062.5" cy="1098.4" r="2.60" fill="#0000ff"/></g>
<text x="793.1" y="1023.8" font-size="45" font-weight="bold" font-family="Carlito, Calibri, 'Liberation Sans', sans-serif" fill="#c00000" textLength="266" lengthAdjust="spacingAndGlyphs">FAM122A-WT</text>
<text transform="translate(675.0,1254.3) rotate(-90)" font-size="20.5" font-weight="bold" text-anchor="middle">% Confluency</text>
<text x="924.4" y="1539.2" font-size="20.6" text-anchor="middle" font-weight="bold">Time (hr)</text>
<path d="M1073.3,1147.6H1083.6V1197.8H1073.3" fill="none" stroke="#00ee00" stroke-width="1.5"/>
<path d="M1096.4,1147.6H1105.9V1197.8H1096.4" fill="none" stroke="#007a1a" stroke-width="1.5"/>
<path d="M1128.6,1099.3H1137.6V1198.3H1128.6" fill="none" stroke="#ff0000" stroke-width="1.6"/>
<text x="1093.0" y="1175.0" font-size="12.5" text-anchor="middle" font-weight="bold">*</text>
<text x="1120.8" y="1175.0" font-size="12.5" text-anchor="middle" font-weight="bold">***</text>
<text x="1155.6" y="1151.0" font-size="12.5" text-anchor="middle" font-weight="bold">****</text>
<line x1="739.7" y1="1556.5" x2="767.8" y2="1556.5" stroke="#0000ff" stroke-width="1.5"/>
<circle cx="753.8" cy="1556.5" r="2.40" fill="#0000ff"/>
<text x="781.5" y="1564.0" font-size="21">HEK293</text>
<line x1="739.7" y1="1589.9" x2="767.8" y2="1589.9" stroke="#ff0000" stroke-width="1.5"/>
<rect x="751.5" y="1587.6" width="4.6" height="4.6" fill="#ff0000"/>
<text x="781.5" y="1597.4" font-size="21" textLength="164.5" lengthAdjust="spacingAndGlyphs">HEK293 sgF122A</text>
<line x1="739.7" y1="1624.1" x2="767.8" y2="1624.1" stroke="#00f000" stroke-width="1.5"/>
<path d="M753.8,1621.5L756.1,1625.8L751.4,1625.8Z" fill="#00f000"/>
<text x="781.5" y="1631.6" font-size="21" textLength="360" lengthAdjust="spacingAndGlyphs">HEK293 sgF122A mGFP F122A WT C1</text>
<line x1="739.7" y1="1657.7" x2="767.8" y2="1657.7" stroke="#007a1a" stroke-width="1.5"/>
<path d="M753.8,1660.3L756.1,1656.0L751.4,1656.0Z" fill="#007a1a"/>
<text x="781.5" y="1665.2" font-size="21" textLength="360" lengthAdjust="spacingAndGlyphs">HEK293 sgF122A mGFP F122A WT C2</text>
<rect x="1272.9" y="1030.1" width="3.9" height="461.1" fill="#000"/>
<rect x="1262.2" y="1476.2" width="396.7" height="3.9" fill="#000"/>
<rect x="1262.2" y="1387.0" width="12.6" height="3.9" fill="#000"/>
<rect x="1262.2" y="1297.8" width="12.6" height="3.9" fill="#000"/>
<rect x="1262.2" y="1208.6" width="12.6" height="3.9" fill="#000"/>
<rect x="1262.2" y="1119.4" width="12.6" height="3.9" fill="#000"/>
<rect x="1262.2" y="1030.1" width="12.6" height="3.9" fill="#000"/>
<rect x="1336.6" y="1478.2" width="3.9" height="13.0" fill="#000"/>
<rect x="1400.3" y="1478.2" width="3.9" height="13.0" fill="#000"/>
<rect x="1464.0" y="1478.2" width="3.9" height="13.0" fill="#000"/>
<rect x="1527.7" y="1478.2" width="3.9" height="13.0" fill="#000"/>
<rect x="1591.3" y="1478.2" width="3.9" height="13.0" fill="#000"/>
<rect x="1655.0" y="1478.2" width="3.9" height="13.0" fill="#000"/>
<text x="1259.8" y="1485.0" font-size="19.6" text-anchor="end" font-weight="bold">0</text>
<text x="1259.8" y="1395.7" font-size="19.6" text-anchor="end" font-weight="bold">20</text>
<text x="1259.8" y="1306.5" font-size="19.6" text-anchor="end" font-weight="bold">40</text>
<text x="1259.8" y="1217.3" font-size="19.6" text-anchor="end" font-weight="bold">60</text>
<text x="1259.8" y="1128.1" font-size="19.6" text-anchor="end" font-weight="bold">80</text>
<text x="1259.8" y="1038.9" font-size="19.6" text-anchor="end" font-weight="bold">100</text>
<text x="1274.8" y="1511.8" font-size="19.6" text-anchor="middle" font-weight="bold">0</text>
<text x="1338.5" y="1511.8" font-size="19.6" text-anchor="middle" font-weight="bold">20</text>
<text x="1402.2" y="1511.8" font-size="19.6" text-anchor="middle" font-weight="bold">40</text>
<text x="1465.9" y="1511.8" font-size="19.6" text-anchor="middle" font-weight="bold">60</text>
<text x="1529.6" y="1511.8" font-size="19.6" text-anchor="middle" font-weight="bold">80</text>
<text x="1593.3" y="1511.8" font-size="19.6" text-anchor="middle" font-weight="bold">100</text>
<text x="1657.0" y="1511.8" font-size="19.6" text-anchor="middle" font-weight="bold">120</text>
<g stroke="#ff0000" stroke-width="1.4" fill="none"><path d="M1274.8,1451.7V1456.5M1271.5,1451.7H1278.1M1271.5,1456.5H1278.1"/><path d="M1287.6,1450.8V1455.7M1284.3,1450.8H1290.9M1284.3,1455.7H1290.9"/><path d="M1300.3,1450.8V1455.7M1297.0,1450.8H1303.6M1297.0,1455.7H1303.6"/><path d="M1313.1,1448.6V1453.8M1309.8,1448.6H1316.4M1309.8,1453.8H1316.4"/><path d="M1325.8,1447.9V1453.1M1322.5,1447.9H1329.1M1322.5,1453.1H1329.1"/><path d="M1338.5,1445.6V1451.1M1335.2,1445.6H1341.8M1335.2,1451.1H1341.8"/><path d="M1351.3,1443.7V1449.4M1348.0,1443.7H1354.6M1348.0,1449.4H1354.6"/><path d="M1364.0,1441.8V1447.7M1360.7,1441.8H1367.3M1360.7,1447.7H1367.3"/><path d="M1376.8,1438.5V1444.8M1373.5,1438.5H1380.1M1373.5,1444.8H1380.1"/><path d="M1389.5,1435.1V1441.9M1386.2,1435.1H1392.8M1386.2,1441.9H1392.8"/><path d="M1402.2,1430.9V1438.1M1398.9,1430.9H1405.5M1398.9,1438.1H1405.5"/><path d="M1415.0,1426.1V1433.9M1411.7,1426.1H1418.3M1411.7,1433.9H1418.3"/><path d="M1427.7,1419.5V1428.0M1424.4,1419.5H1431.0M1424.4,1428.0H1431.0"/><path d="M1440.4,1412.4V1421.8M1437.1,1412.4H1443.7M1437.1,1421.8H1443.7"/><path d="M1453.2,1403.4V1413.8M1449.9,1403.4H1456.5M1449.9,1413.8H1456.5"/><path d="M1465.9,1392.0V1403.8M1462.6,1392.0H1469.2M1462.6,1403.8H1469.2"/><path d="M1478.7,1379.7V1392.9M1475.4,1379.7H1482.0M1475.4,1392.9H1482.0"/><path d="M1491.4,1364.6V1379.5M1488.1,1364.6H1494.7M1488.1,1379.5H1494.7"/><path d="M1504.1,1352.2V1368.6M1500.8,1352.2H1507.4M1500.8,1368.6H1507.4"/><path d="M1516.9,1333.3V1351.9M1513.6,1333.3H1520.2M1513.6,1351.9H1520.2"/><path d="M1529.6,1313.4V1334.3M1526.3,1313.4H1532.9M1526.3,1334.3H1532.9"/><path d="M1542.3,1291.1V1314.6M1539.0,1291.1H1545.6M1539.0,1314.6H1545.6"/><path d="M1555.1,1268.9V1295.0M1551.8,1268.9H1558.4M1551.8,1295.0H1558.4"/><path d="M1567.8,1244.7V1273.6M1564.5,1244.7H1571.1M1564.5,1273.6H1571.1"/><path d="M1580.6,1222.4V1254.0M1577.3,1222.4H1583.9M1577.3,1254.0H1583.9"/><path d="M1593.3,1197.8V1232.2M1590.0,1197.8H1596.6M1590.0,1232.2H1596.6"/><path d="M1606.0,1176.0V1213.0M1602.7,1176.0H1609.3M1602.7,1213.0H1609.3"/></g>
<polyline points="1274.8,1454.1 1287.6,1453.2 1300.3,1453.2 1313.1,1451.2 1325.8,1450.5 1338.5,1448.3 1351.3,1446.5 1364.0,1444.7 1376.8,1441.6 1389.5,1438.5 1402.2,1434.5 1415.0,1430.0 1427.7,1423.8 1440.4,1417.1 1453.2,1408.6 1465.9,1397.9 1478.7,1386.3 1491.4,1372.0 1504.1,1360.4 1516.9,1342.6 1529.6,1323.8 1542.3,1302.9 1555.1,1281.9 1567.8,1259.2 1580.6,1238.2 1593.3,1215.0 1606.0,1194.5" fill="none" stroke="#ff0000" stroke-width="1.5" stroke-linejoin="round"/>
<g><rect x="1272.2" y="1451.5" width="5.2" height="5.2" fill="#ff0000"/><rect x="1285.0" y="1450.6" width="5.2" height="5.2" fill="#ff0000"/><rect x="1297.7" y="1450.6" width="5.2" height="5.2" fill="#ff0000"/><rect x="1310.5" y="1448.6" width="5.2" height="5.2" fill="#ff0000"/><rect x="1323.2" y="1447.9" width="5.2" height="5.2" fill="#ff0000"/><rect x="1335.9" y="1445.7" width="5.2" height="5.2" fill="#ff0000"/><rect x="1348.7" y="1443.9" width="5.2" height="5.2" fill="#ff0000"/><rect x="1361.4" y="1442.1" width="5.2" height="5.2" fill="#ff0000"/><rect x="1374.2" y="1439.0" width="5.2" height="5.2" fill="#ff0000"/><rect x="1386.9" y="1435.9" width="5.2" height="5.2" fill="#ff0000"/><rect x="1399.6" y="1431.9" width="5.2" height="5.2" fill="#ff0000"/><rect x="1412.4" y="1427.4" width="5.2" height="5.2" fill="#ff0000"/><rect x="1425.1" y="1421.2" width="5.2" height="5.2" fill="#ff0000"/><rect x="1437.8" y="1414.5" width="5.2" height="5.2" fill="#ff0000"/><rect x="1450.6" y="1406.0" width="5.2" height="5.2" fill="#ff0000"/><rect x="1463.3" y="1395.3" width="5.2" height="5.2" fill="#ff0000"/><rect x="1476.1" y="1383.7" width="5.2" height="5.2" fill="#ff0000"/><rect x="1488.8" y="1369.4" width="5.2" height="5.2" fill="#ff0000"/><rect x="1501.5" y="1357.8" width="5.2" height="5.2" fill="#ff0000"/><rect x="1514.3" y="1340.0" width="5.2" height="5.2" fill="#ff0000"/><rect x="1527.0" y="1321.2" width="5.2" height="5.2" fill="#ff0000"/><rect x="1539.7" y="1300.3" width="5.2" height="5.2" fill="#ff0000"/><rect x="1552.5" y="1279.3" width="5.2" height="5.2" fill="#ff0000"/><rect x="1565.2" y="1256.6" width="5.2" height="5.2" fill="#ff0000"/><rect x="1578.0" y="1235.6" width="5.2" height="5.2" fill="#ff0000"/><rect x="1590.7" y="1212.4" width="5.2" height="5.2" fill="#ff0000"/><rect x="1603.4" y="1191.9" width="5.2" height="5.2" fill="#ff0000"/></g>
<g stroke="#dd00ff" stroke-width="1.4" fill="none"><path d="M1274.8,1446.7V1451.7M1271.5,1446.7H1278.1M1271.5,1451.7H1278.1"/><path d="M1287.6,1445.8V1450.8M1284.3,1445.8H1290.9M1284.3,1450.8H1290.9"/><path d="M1300.3,1443.0V1448.3M1297.0,1443.0H1303.6M1297.0,1448.3H1303.6"/><path d="M1313.1,1442.1V1447.4M1309.8,1442.1H1316.4M1309.8,1447.4H1316.4"/><path d="M1325.8,1440.2V1445.7M1322.5,1440.2H1329.1M1322.5,1445.7H1329.1"/><path d="M1338.5,1437.9V1443.6M1335.2,1437.9H1341.8M1335.2,1443.6H1341.8"/><path d="M1351.3,1436.5V1442.3M1348.0,1436.5H1354.6M1348.0,1442.3H1354.6"/><path d="M1364.0,1432.8V1438.9M1360.7,1432.8H1367.3M1360.7,1438.9H1367.3"/><path d="M1376.8,1425.8V1432.4M1373.5,1425.8H1380.1M1373.5,1432.4H1380.1"/><path d="M1389.5,1419.8V1426.9M1386.2,1419.8H1392.8M1386.2,1426.9H1392.8"/><path d="M1402.2,1411.9V1419.6M1398.9,1411.9H1405.5M1398.9,1419.6H1405.5"/><path d="M1415.0,1404.0V1412.3M1411.7,1404.0H1418.3M1411.7,1412.3H1418.3"/><path d="M1427.7,1395.7V1404.6M1424.4,1395.7H1431.0M1424.4,1404.6H1431.0"/><path d="M1440.4,1385.9V1395.6M1437.1,1385.9H1443.7M1437.1,1395.6H1443.7"/><path d="M1453.2,1373.9V1384.5M1449.9,1373.9H1456.5M1449.9,1384.5H1456.5"/><path d="M1465.9,1362.7V1374.2M1462.6,1362.7H1469.2M1462.6,1374.2H1469.2"/><path d="M1478.7,1347.9V1360.5M1475.4,1347.9H1482.0M1475.4,1360.5H1482.0"/><path d="M1491.4,1333.0V1346.8M1488.1,1333.0H1494.7M1488.1,1346.8H1494.7"/><path d="M1504.1,1321.0V1335.6M1500.8,1321.0H1507.4M1500.8,1335.6H1507.4"/><path d="M1516.9,1304.7V1320.7M1513.6,1304.7H1520.2M1513.6,1320.7H1520.2"/><path d="M1529.6,1287.6V1304.8M1526.3,1287.6H1532.9M1526.3,1304.8H1532.9"/><path d="M1542.3,1269.5V1288.1M1539.0,1269.5H1545.6M1539.0,1288.1H1545.6"/><path d="M1555.1,1251.4V1271.4M1551.8,1251.4H1558.4M1551.8,1271.4H1558.4"/><path d="M1567.8,1228.7V1250.4M1564.5,1228.7H1571.1M1564.5,1250.4H1571.1"/><path d="M1580.6,1209.6V1232.9M1577.3,1209.6H1583.9M1577.3,1232.9H1583.9"/><path d="M1593.3,1190.6V1215.3M1590.0,1190.6H1596.6M1590.0,1215.3H1596.6"/><path d="M1606.0,1175.3V1201.2M1602.7,1175.3H1609.3M1602.7,1201.2H1609.3"/></g>
<polyline points="1274.8,1449.2 1287.6,1448.3 1300.3,1445.6 1313.1,1444.7 1325.8,1443.0 1338.5,1440.7 1351.3,1439.4 1364.0,1435.8 1376.8,1429.1 1389.5,1423.3 1402.2,1415.7 1415.0,1408.2 1427.7,1400.1 1440.4,1390.8 1453.2,1379.2 1465.9,1368.5 1478.7,1354.2 1491.4,1339.9 1504.1,1328.3 1516.9,1312.7 1529.6,1296.2 1542.3,1278.8 1555.1,1261.4 1567.8,1239.5 1580.6,1221.2 1593.3,1203.0 1606.0,1188.2" fill="none" stroke="#dd00ff" stroke-width="1.5" stroke-linejoin="round"/>
<g><path d="M1274.8,1446.8L1277.0,1450.7L1272.6,1450.7Z" fill="#dd00ff"/><path d="M1287.6,1445.9L1289.8,1449.9L1285.4,1449.9Z" fill="#dd00ff"/><path d="M1300.3,1443.2L1302.5,1447.2L1298.1,1447.2Z" fill="#dd00ff"/><path d="M1313.1,1442.3L1315.3,1446.3L1310.9,1446.3Z" fill="#dd00ff"/><path d="M1325.8,1440.5L1328.0,1444.5L1323.6,1444.5Z" fill="#dd00ff"/><path d="M1338.5,1438.3L1340.7,1442.3L1336.3,1442.3Z" fill="#dd00ff"/><path d="M1351.3,1437.0L1353.5,1440.9L1349.1,1440.9Z" fill="#dd00ff"/><path d="M1364.0,1433.4L1366.2,1437.4L1361.8,1437.4Z" fill="#dd00ff"/><path d="M1376.8,1426.7L1379.0,1430.7L1374.6,1430.7Z" fill="#dd00ff"/><path d="M1389.5,1420.9L1391.7,1424.9L1387.3,1424.9Z" fill="#dd00ff"/><path d="M1402.2,1413.3L1404.4,1417.3L1400.0,1417.3Z" fill="#dd00ff"/><path d="M1415.0,1405.7L1417.2,1409.7L1412.8,1409.7Z" fill="#dd00ff"/><path d="M1427.7,1397.7L1429.9,1401.7L1425.5,1401.7Z" fill="#dd00ff"/><path d="M1440.4,1388.3L1442.6,1392.3L1438.2,1392.3Z" fill="#dd00ff"/><path d="M1453.2,1376.7L1455.4,1380.7L1451.0,1380.7Z" fill="#dd00ff"/><path d="M1465.9,1366.0L1468.1,1370.0L1463.7,1370.0Z" fill="#dd00ff"/><path d="M1478.7,1351.8L1480.9,1355.7L1476.5,1355.7Z" fill="#dd00ff"/><path d="M1491.4,1337.5L1493.6,1341.4L1489.2,1341.4Z" fill="#dd00ff"/><path d="M1504.1,1325.9L1506.3,1329.9L1501.9,1329.9Z" fill="#dd00ff"/><path d="M1516.9,1310.3L1519.1,1314.2L1514.7,1314.2Z" fill="#dd00ff"/><path d="M1529.6,1293.8L1531.8,1297.7L1527.4,1297.7Z" fill="#dd00ff"/><path d="M1542.3,1276.4L1544.5,1280.3L1540.1,1280.3Z" fill="#dd00ff"/><path d="M1555.1,1259.0L1557.3,1262.9L1552.9,1262.9Z" fill="#dd00ff"/><path d="M1567.8,1237.1L1570.0,1241.1L1565.6,1241.1Z" fill="#dd00ff"/><path d="M1580.6,1218.8L1582.8,1222.8L1578.4,1222.8Z" fill="#dd00ff"/><path d="M1593.3,1200.5L1595.5,1204.5L1591.1,1204.5Z" fill="#dd00ff"/><path d="M1606.0,1185.8L1608.2,1189.8L1603.8,1189.8Z" fill="#dd00ff"/></g>
<g stroke="#0000ff" stroke-width="1.4" fill="none"><path d="M1274.8,1444.8V1450.9M1271.5,1444.8H1278.1M1271.5,1450.9H1278.1"/><path d="M1287.6,1444.3V1450.5M1284.3,1444.3H1290.9M1284.3,1450.5H1290.9"/><path d="M1300.3,1440.5V1447.2M1297.0,1440.5H1303.6M1297.0,1447.2H1303.6"/><path d="M1313.1,1439.6V1446.3M1309.8,1439.6H1316.4M1309.8,1446.3H1316.4"/><path d="M1325.8,1437.2V1444.3M1322.5,1437.2H1329.1M1322.5,1444.3H1329.1"/><path d="M1338.5,1432.4V1440.1M1335.2,1432.4H1341.8M1335.2,1440.1H1341.8"/><path d="M1351.3,1427.2V1435.5M1348.0,1427.2H1354.6M1348.0,1435.5H1354.6"/><path d="M1364.0,1421.5V1430.5M1360.7,1421.5H1367.3M1360.7,1430.5H1367.3"/><path d="M1376.8,1414.0V1423.8M1373.5,1414.0H1380.1M1373.5,1423.8H1380.1"/><path d="M1389.5,1404.0V1415.0M1386.2,1404.0H1392.8M1386.2,1415.0H1392.8"/><path d="M1402.2,1392.3V1404.4M1398.9,1392.3H1405.5M1398.9,1404.4H1405.5"/><path d="M1415.0,1378.2V1391.8M1411.7,1378.2H1418.3M1411.7,1391.8H1418.3"/><path d="M1427.7,1364.6V1379.5M1424.4,1364.6H1431.0M1424.4,1379.5H1431.0"/><path d="M1440.4,1348.2V1364.6M1437.1,1348.2H1443.7M1437.1,1364.6H1443.7"/><path d="M1453.2,1329.6V1347.5M1449.9,1329.6H1456.5M1449.9,1347.5H1456.5"/><path d="M1465.9,1312.9V1332.1M1462.6,1312.9H1469.2M1462.6,1332.1H1469.2"/><path d="M1478.7,1293.6V1314.0M1475.4,1293.6H1482.0M1475.4,1314.0H1482.0"/><path d="M1491.4,1275.2V1296.7M1488.1,1275.2H1494.7M1488.1,1296.7H1494.7"/><path d="M1504.1,1256.0V1278.4M1500.8,1256.0H1507.4M1500.8,1278.4H1507.4"/><path d="M1516.9,1233.7V1257.0M1513.6,1233.7H1520.2M1513.6,1257.0H1520.2"/><path d="M1529.6,1212.8V1236.8M1526.3,1212.8H1532.9M1526.3,1236.8H1532.9"/><path d="M1542.3,1190.8V1215.2M1539.0,1190.8H1545.6M1539.0,1215.2H1545.6"/><path d="M1555.1,1168.4V1192.9M1551.8,1168.4H1558.4M1551.8,1192.9H1558.4"/><path d="M1567.8,1144.3V1168.8M1564.5,1144.3H1571.1M1564.5,1168.8H1571.1"/><path d="M1580.6,1122.6V1146.8M1577.3,1122.6H1583.9M1577.3,1146.8H1583.9"/><path d="M1593.3,1103.6V1127.4M1590.0,1103.6H1596.6M1590.0,1127.4H1596.6"/><path d="M1606.0,1085.2V1108.3M1602.7,1085.2H1609.3M1602.7,1108.3H1609.3"/></g>
<polyline points="1274.8,1447.9 1287.6,1447.4 1300.3,1443.9 1313.1,1443.0 1325.8,1440.7 1338.5,1436.3 1351.3,1431.4 1364.0,1426.0 1376.8,1418.9 1389.5,1409.5 1402.2,1398.3 1415.0,1385.0 1427.7,1372.0 1440.4,1356.4 1453.2,1338.6 1465.9,1322.5 1478.7,1303.8 1491.4,1285.9 1504.1,1267.2 1516.9,1245.3 1529.6,1224.8 1542.3,1203.0 1555.1,1180.7 1567.8,1156.6 1580.6,1134.7 1593.3,1115.5 1606.0,1096.8" fill="none" stroke="#0000ff" stroke-width="1.5" stroke-linejoin="round"/>
<g><circle cx="1274.8" cy="1447.9" r="2.60" fill="#0000ff"/><circle cx="1287.6" cy="1447.4" r="2.60" fill="#0000ff"/><circle cx="1300.3" cy="1443.9" r="2.60" fill="#0000ff"/><circle cx="1313.1" cy="1443.0" r="2.60" fill="#0000ff"/><circle cx="1325.8" cy="1440.7" r="2.60" fill="#0000ff"/><circle cx="1338.5" cy="1436.3" r="2.60" fill="#0000ff"/><circle cx="1351.3" cy="1431.4" r="2.60" fill="#0000ff"/><circle cx="1364.0" cy="1426.0" r="2.60" fill="#0000ff"/><circle cx="1376.8" cy="1418.9" r="2.60" fill="#0000ff"/><circle cx="1389.5" cy="1409.5" r="2.60" fill="#0000ff"/><circle cx="1402.2" cy="1398.3" r="2.60" fill="#0000ff"/><circle cx="1415.0" cy="1385.0" r="2.60" fill="#0000ff"/><circle cx="1427.7" cy="1372.0" r="2.60" fill="#0000ff"/><circle cx="1440.4" cy="1356.4" r="2.60" fill="#0000ff"/><circle cx="1453.2" cy="1338.6" r="2.60" fill="#0000ff"/><circle cx="1465.9" cy="1322.5" r="2.60" fill="#0000ff"/><circle cx="1478.7" cy="1303.8" r="2.60" fill="#0000ff"/><circle cx="1491.4" cy="1285.9" r="2.60" fill="#0000ff"/><circle cx="1504.1" cy="1267.2" r="2.60" fill="#0000ff"/><circle cx="1516.9" cy="1245.3" r="2.60" fill="#0000ff"/><circle cx="1529.6" cy="1224.8" r="2.60" fill="#0000ff"/><circle cx="1542.3" cy="1203.0" r="2.60" fill="#0000ff"/><circle cx="1555.1" cy="1180.7" r="2.60" fill="#0000ff"/><circle cx="1567.8" cy="1156.6" r="2.60" fill="#0000ff"/><circle cx="1580.6" cy="1134.7" r="2.60" fill="#0000ff"/><circle cx="1593.3" cy="1115.5" r="2.60" fill="#0000ff"/><circle cx="1606.0" cy="1096.8" r="2.60" fill="#0000ff"/></g>
<text x="1350.6" y="1019.6" font-size="46" font-weight="bold" font-family="Carlito, Calibri, 'Liberation Sans', sans-serif" fill="#c00000" textLength="200.5" lengthAdjust="spacingAndGlyphs">MUT-SLiM</text>
<text transform="translate(1215.3,1254.9) rotate(-90)" font-size="20.5" font-weight="bold" text-anchor="middle">% Confluency</text>
<text x="1466.0" y="1544.0" font-size="20.6" text-anchor="middle" font-weight="bold">Time (hr)</text>
<path d="M1653.1,1092.9H1666V1190.6H1653.1" fill="none" stroke="#ff0000" stroke-width="1.6"/>
<path d="M1619.4,1183.5H1625.9V1198.6H1619.4" fill="none" stroke="#dd00ff" stroke-width="1.6"/>
<text x="1684.0" y="1143.0" font-size="12.5" text-anchor="middle" font-weight="bold">****</text>
<text x="1633.0" y="1194.9" font-size="13.3">ns</text>
<line x1="1280.2" y1="1560.8" x2="1309.0" y2="1560.8" stroke="#0000ff" stroke-width="1.5"/>
<circle cx="1294.6" cy="1560.8" r="2.40" fill="#0000ff"/>
<text x="1322.2" y="1568.3" font-size="21">HEK293</text>
<line x1="1280.2" y1="1594.5" x2="1309.0" y2="1594.5" stroke="#ff0000" stroke-width="1.5"/>
<rect x="1292.3" y="1592.2" width="4.6" height="4.6" fill="#ff0000"/>
<text x="1322.2" y="1602.0" font-size="21" textLength="165.5" lengthAdjust="spacingAndGlyphs">HEK293 sgF122A</text>
<line x1="1280.2" y1="1627.8" x2="1309.0" y2="1627.8" stroke="#dd00ff" stroke-width="1.5"/>
<path d="M1294.6,1625.4L1296.8,1629.3L1292.4,1629.3Z" fill="#dd00ff"/>
<text x="1322.2" y="1635.3" font-size="21" textLength="428" lengthAdjust="spacingAndGlyphs">HEK293 sgF122A mGFP F122A SLiM MUT C1</text>
</svg>
</body></html>
